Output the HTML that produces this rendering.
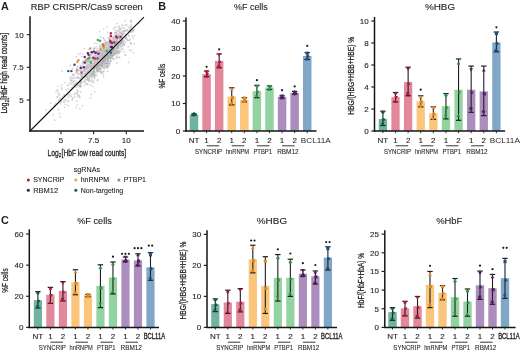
<!DOCTYPE html>
<html><head><meta charset="utf-8"><style>
html,body{margin:0;padding:0;background:#fff;width:520px;height:352px;overflow:hidden}
svg{display:block;filter:blur(0.3px)}
</style></head><body><svg width="520" height="352" viewBox="0 0 520 352" font-family='"Liberation Sans", sans-serif'><rect width="520" height="352" fill="#fff"/>
<text x="1.0" y="9.6" font-size="10.8" font-weight="bold" fill="#231f20">A</text>
<text x="30.8" y="10.4" font-size="9.3" textLength="112" lengthAdjust="spacingAndGlyphs" fill="#231f20" stroke="#231f20" stroke-width="0.12">RBP CRISPR/Cas9 screen</text>
<g fill="#ababb0" fill-opacity="0.52"><circle cx="98.1" cy="62.1" r="0.85"/><circle cx="118.4" cy="46.7" r="0.85"/><circle cx="97.2" cy="65.5" r="0.85"/><circle cx="113.7" cy="42.6" r="0.85"/><circle cx="98.2" cy="71.2" r="0.85"/><circle cx="115.8" cy="43.9" r="0.85"/><circle cx="123.4" cy="33.5" r="0.85"/><circle cx="108.4" cy="55.4" r="0.85"/><circle cx="132.9" cy="31.0" r="0.85"/><circle cx="102.2" cy="66.4" r="0.85"/><circle cx="110.2" cy="51.3" r="0.85"/><circle cx="106.2" cy="56.5" r="0.85"/><circle cx="111.8" cy="46.7" r="0.85"/><circle cx="119.4" cy="41.8" r="0.85"/><circle cx="93.0" cy="65.5" r="0.85"/><circle cx="96.3" cy="66.9" r="0.85"/><circle cx="95.9" cy="66.4" r="0.85"/><circle cx="102.2" cy="58.9" r="0.85"/><circle cx="139.5" cy="23.0" r="0.85"/><circle cx="117.0" cy="52.5" r="0.85"/><circle cx="106.7" cy="52.0" r="0.85"/><circle cx="108.5" cy="51.8" r="0.85"/><circle cx="110.3" cy="57.5" r="0.85"/><circle cx="114.5" cy="52.3" r="0.85"/><circle cx="126.5" cy="38.6" r="0.85"/><circle cx="115.6" cy="46.7" r="0.85"/><circle cx="118.0" cy="47.6" r="0.85"/><circle cx="118.5" cy="44.5" r="0.85"/><circle cx="120.9" cy="38.0" r="0.85"/><circle cx="110.6" cy="56.0" r="0.85"/><circle cx="116.4" cy="43.4" r="0.85"/><circle cx="124.4" cy="40.0" r="0.85"/><circle cx="114.4" cy="45.1" r="0.85"/><circle cx="111.9" cy="49.2" r="0.85"/><circle cx="111.0" cy="54.6" r="0.85"/><circle cx="100.1" cy="64.4" r="0.85"/><circle cx="114.7" cy="39.3" r="0.85"/><circle cx="118.3" cy="38.3" r="0.85"/><circle cx="116.4" cy="42.0" r="0.85"/><circle cx="111.0" cy="47.1" r="0.85"/><circle cx="125.6" cy="38.5" r="0.85"/><circle cx="103.0" cy="48.6" r="0.85"/><circle cx="111.6" cy="45.4" r="0.85"/><circle cx="117.3" cy="51.2" r="0.85"/><circle cx="131.6" cy="21.0" r="0.85"/><circle cx="111.0" cy="47.2" r="0.85"/><circle cx="110.5" cy="56.7" r="0.85"/><circle cx="108.3" cy="51.9" r="0.85"/><circle cx="119.5" cy="38.9" r="0.85"/><circle cx="109.9" cy="45.0" r="0.85"/><circle cx="102.4" cy="55.6" r="0.85"/><circle cx="119.5" cy="44.4" r="0.85"/><circle cx="93.0" cy="74.3" r="0.85"/><circle cx="111.5" cy="47.9" r="0.85"/><circle cx="123.5" cy="44.3" r="0.85"/><circle cx="109.4" cy="49.4" r="0.85"/><circle cx="107.9" cy="67.4" r="0.85"/><circle cx="116.7" cy="32.9" r="0.85"/><circle cx="118.5" cy="48.8" r="0.85"/><circle cx="105.6" cy="55.5" r="0.85"/><circle cx="132.1" cy="26.8" r="0.85"/><circle cx="110.4" cy="43.4" r="0.85"/><circle cx="108.6" cy="43.5" r="0.85"/><circle cx="103.1" cy="61.8" r="0.85"/><circle cx="115.9" cy="38.6" r="0.85"/><circle cx="115.3" cy="45.3" r="0.85"/><circle cx="92.7" cy="73.6" r="0.85"/><circle cx="103.7" cy="61.5" r="0.85"/><circle cx="114.7" cy="49.4" r="0.85"/><circle cx="116.5" cy="45.3" r="0.85"/><circle cx="106.3" cy="55.4" r="0.85"/><circle cx="113.3" cy="44.3" r="0.85"/><circle cx="105.0" cy="58.6" r="0.85"/><circle cx="96.9" cy="56.6" r="0.85"/><circle cx="122.6" cy="40.7" r="0.85"/><circle cx="105.0" cy="64.1" r="0.85"/><circle cx="110.9" cy="50.3" r="0.85"/><circle cx="129.3" cy="31.7" r="0.85"/><circle cx="102.2" cy="73.5" r="0.85"/><circle cx="122.2" cy="39.0" r="0.85"/><circle cx="94.6" cy="66.7" r="0.85"/><circle cx="94.6" cy="48.6" r="0.85"/><circle cx="119.6" cy="39.6" r="0.85"/><circle cx="107.7" cy="66.3" r="0.85"/><circle cx="108.2" cy="62.7" r="0.85"/><circle cx="114.8" cy="59.3" r="0.85"/><circle cx="101.0" cy="54.6" r="0.85"/><circle cx="124.4" cy="44.4" r="0.85"/><circle cx="95.3" cy="62.2" r="0.85"/><circle cx="117.1" cy="50.6" r="0.85"/><circle cx="103.0" cy="63.1" r="0.85"/><circle cx="98.5" cy="67.6" r="0.85"/><circle cx="120.8" cy="37.7" r="0.85"/><circle cx="128.2" cy="34.6" r="0.85"/><circle cx="108.1" cy="59.6" r="0.85"/><circle cx="108.2" cy="61.3" r="0.85"/><circle cx="93.1" cy="65.4" r="0.85"/><circle cx="122.5" cy="35.2" r="0.85"/><circle cx="121.5" cy="39.4" r="0.85"/><circle cx="102.8" cy="59.1" r="0.85"/><circle cx="105.9" cy="62.5" r="0.85"/><circle cx="93.9" cy="76.6" r="0.85"/><circle cx="109.3" cy="52.2" r="0.85"/><circle cx="105.0" cy="49.5" r="0.85"/><circle cx="111.0" cy="48.1" r="0.85"/><circle cx="120.5" cy="46.3" r="0.85"/><circle cx="91.3" cy="66.9" r="0.85"/><circle cx="103.0" cy="52.1" r="0.85"/><circle cx="112.4" cy="44.4" r="0.85"/><circle cx="116.3" cy="57.4" r="0.85"/><circle cx="115.9" cy="50.1" r="0.85"/><circle cx="102.4" cy="62.3" r="0.85"/><circle cx="116.4" cy="41.1" r="0.85"/><circle cx="118.6" cy="52.8" r="0.85"/><circle cx="103.9" cy="71.4" r="0.85"/><circle cx="108.4" cy="50.6" r="0.85"/><circle cx="102.3" cy="58.6" r="0.85"/><circle cx="111.5" cy="45.3" r="0.85"/><circle cx="101.8" cy="65.0" r="0.85"/><circle cx="102.4" cy="50.3" r="0.85"/><circle cx="119.3" cy="43.7" r="0.85"/><circle cx="111.4" cy="50.3" r="0.85"/><circle cx="111.2" cy="52.3" r="0.85"/><circle cx="106.3" cy="62.9" r="0.85"/><circle cx="103.5" cy="49.8" r="0.85"/><circle cx="114.2" cy="47.7" r="0.85"/><circle cx="107.4" cy="54.6" r="0.85"/><circle cx="112.6" cy="53.3" r="0.85"/><circle cx="111.1" cy="49.9" r="0.85"/><circle cx="102.5" cy="64.2" r="0.85"/><circle cx="100.2" cy="67.9" r="0.85"/><circle cx="117.5" cy="57.8" r="0.85"/><circle cx="106.9" cy="58.8" r="0.85"/><circle cx="103.7" cy="58.1" r="0.85"/><circle cx="119.7" cy="42.2" r="0.85"/><circle cx="108.1" cy="57.6" r="0.85"/><circle cx="108.2" cy="49.1" r="0.85"/><circle cx="105.7" cy="62.9" r="0.85"/><circle cx="97.8" cy="70.6" r="0.85"/><circle cx="96.6" cy="59.7" r="0.85"/><circle cx="112.6" cy="51.0" r="0.85"/><circle cx="122.7" cy="43.2" r="0.85"/><circle cx="116.2" cy="41.7" r="0.85"/><circle cx="95.2" cy="75.7" r="0.85"/><circle cx="100.8" cy="56.5" r="0.85"/><circle cx="121.2" cy="47.9" r="0.85"/><circle cx="118.9" cy="45.5" r="0.85"/><circle cx="105.7" cy="59.6" r="0.85"/><circle cx="106.4" cy="65.9" r="0.85"/><circle cx="100.2" cy="68.9" r="0.85"/><circle cx="113.8" cy="37.0" r="0.85"/><circle cx="134.3" cy="29.8" r="0.85"/><circle cx="93.6" cy="71.0" r="0.85"/><circle cx="100.7" cy="50.7" r="0.85"/><circle cx="114.6" cy="51.7" r="0.85"/><circle cx="117.9" cy="41.5" r="0.85"/><circle cx="94.5" cy="70.8" r="0.85"/><circle cx="107.1" cy="55.1" r="0.85"/><circle cx="110.5" cy="53.6" r="0.85"/><circle cx="111.1" cy="54.5" r="0.85"/><circle cx="101.1" cy="52.9" r="0.85"/><circle cx="112.6" cy="47.3" r="0.85"/><circle cx="94.7" cy="68.5" r="0.85"/><circle cx="116.8" cy="52.6" r="0.85"/><circle cx="119.4" cy="45.1" r="0.85"/><circle cx="113.0" cy="50.0" r="0.85"/><circle cx="111.3" cy="44.4" r="0.85"/><circle cx="105.6" cy="48.1" r="0.85"/><circle cx="102.2" cy="65.2" r="0.85"/><circle cx="115.8" cy="52.3" r="0.85"/><circle cx="105.9" cy="51.4" r="0.85"/><circle cx="120.4" cy="51.6" r="0.85"/><circle cx="114.0" cy="38.0" r="0.85"/><circle cx="120.3" cy="43.4" r="0.85"/><circle cx="103.8" cy="60.1" r="0.85"/><circle cx="98.8" cy="65.0" r="0.85"/><circle cx="107.6" cy="55.5" r="0.85"/><circle cx="120.2" cy="43.4" r="0.85"/><circle cx="96.0" cy="60.5" r="0.85"/><circle cx="99.5" cy="65.2" r="0.85"/><circle cx="108.1" cy="56.1" r="0.85"/><circle cx="100.2" cy="63.5" r="0.85"/><circle cx="129.3" cy="36.3" r="0.85"/><circle cx="108.1" cy="48.1" r="0.85"/><circle cx="116.1" cy="42.0" r="0.85"/><circle cx="117.2" cy="55.9" r="0.85"/><circle cx="101.4" cy="60.2" r="0.85"/><circle cx="113.9" cy="41.3" r="0.85"/><circle cx="113.6" cy="50.0" r="0.85"/><circle cx="109.7" cy="53.8" r="0.85"/><circle cx="111.6" cy="47.0" r="0.85"/><circle cx="106.2" cy="60.5" r="0.85"/><circle cx="101.5" cy="54.8" r="0.85"/><circle cx="121.1" cy="35.8" r="0.85"/><circle cx="117.2" cy="40.6" r="0.85"/><circle cx="109.3" cy="49.3" r="0.85"/><circle cx="99.7" cy="63.7" r="0.85"/><circle cx="102.6" cy="55.7" r="0.85"/><circle cx="104.0" cy="58.9" r="0.85"/><circle cx="113.0" cy="41.9" r="0.85"/><circle cx="102.1" cy="65.4" r="0.85"/><circle cx="116.8" cy="51.6" r="0.85"/><circle cx="113.5" cy="52.0" r="0.85"/><circle cx="108.4" cy="63.9" r="0.85"/><circle cx="115.9" cy="49.2" r="0.85"/><circle cx="101.1" cy="49.8" r="0.85"/><circle cx="115.8" cy="27.2" r="0.85"/><circle cx="113.1" cy="51.2" r="0.85"/><circle cx="110.3" cy="43.2" r="0.85"/><circle cx="109.1" cy="50.7" r="0.85"/><circle cx="114.1" cy="53.2" r="0.85"/><circle cx="110.5" cy="54.6" r="0.85"/><circle cx="97.9" cy="59.6" r="0.85"/><circle cx="115.4" cy="46.5" r="0.85"/><circle cx="101.0" cy="72.3" r="0.85"/><circle cx="113.8" cy="49.1" r="0.85"/><circle cx="93.9" cy="68.7" r="0.85"/><circle cx="95.4" cy="67.0" r="0.85"/><circle cx="110.6" cy="49.7" r="0.85"/><circle cx="111.3" cy="50.0" r="0.85"/><circle cx="98.9" cy="65.5" r="0.85"/><circle cx="104.7" cy="58.9" r="0.85"/><circle cx="111.8" cy="47.1" r="0.85"/><circle cx="124.3" cy="52.1" r="0.85"/><circle cx="113.0" cy="50.4" r="0.85"/><circle cx="130.2" cy="27.0" r="0.85"/><circle cx="94.2" cy="65.9" r="0.85"/><circle cx="104.6" cy="52.3" r="0.85"/><circle cx="99.7" cy="63.2" r="0.85"/><circle cx="108.1" cy="54.7" r="0.85"/><circle cx="104.0" cy="68.4" r="0.85"/><circle cx="113.5" cy="43.3" r="0.85"/><circle cx="108.7" cy="59.2" r="0.85"/><circle cx="111.2" cy="48.0" r="0.85"/><circle cx="107.7" cy="54.7" r="0.85"/><circle cx="122.2" cy="46.2" r="0.85"/><circle cx="104.2" cy="68.5" r="0.85"/><circle cx="102.9" cy="63.4" r="0.85"/><circle cx="100.6" cy="65.6" r="0.85"/><circle cx="125.8" cy="37.6" r="0.85"/><circle cx="108.3" cy="42.0" r="0.85"/><circle cx="108.8" cy="63.0" r="0.85"/><circle cx="113.0" cy="54.4" r="0.85"/><circle cx="124.3" cy="44.8" r="0.85"/><circle cx="104.0" cy="67.1" r="0.85"/><circle cx="110.2" cy="57.7" r="0.85"/><circle cx="108.7" cy="55.6" r="0.85"/><circle cx="103.7" cy="53.4" r="0.85"/><circle cx="117.9" cy="44.1" r="0.85"/><circle cx="101.1" cy="67.1" r="0.85"/><circle cx="111.8" cy="37.4" r="0.85"/><circle cx="105.2" cy="61.5" r="0.85"/><circle cx="103.0" cy="65.4" r="0.85"/><circle cx="100.4" cy="63.0" r="0.85"/><circle cx="122.5" cy="39.9" r="0.85"/><circle cx="104.7" cy="66.5" r="0.85"/><circle cx="111.3" cy="51.2" r="0.85"/><circle cx="98.1" cy="70.2" r="0.85"/><circle cx="108.9" cy="47.8" r="0.85"/><circle cx="115.1" cy="46.1" r="0.85"/><circle cx="106.4" cy="54.2" r="0.85"/><circle cx="109.2" cy="41.2" r="0.85"/><circle cx="99.0" cy="65.4" r="0.85"/><circle cx="120.9" cy="42.8" r="0.85"/><circle cx="122.4" cy="40.2" r="0.85"/><circle cx="110.7" cy="53.7" r="0.85"/><circle cx="96.7" cy="70.9" r="0.85"/><circle cx="129.6" cy="29.2" r="0.85"/><circle cx="114.9" cy="42.2" r="0.85"/><circle cx="114.5" cy="42.2" r="0.85"/><circle cx="106.9" cy="56.6" r="0.85"/><circle cx="118.3" cy="45.9" r="0.85"/><circle cx="97.2" cy="66.4" r="0.85"/><circle cx="104.4" cy="54.6" r="0.85"/><circle cx="102.7" cy="65.4" r="0.85"/><circle cx="106.3" cy="47.5" r="0.85"/><circle cx="108.9" cy="52.5" r="0.85"/><circle cx="109.4" cy="51.3" r="0.85"/><circle cx="117.8" cy="36.8" r="0.85"/><circle cx="94.3" cy="60.5" r="0.85"/><circle cx="109.3" cy="54.8" r="0.85"/><circle cx="131.3" cy="32.0" r="0.85"/><circle cx="127.1" cy="29.9" r="0.85"/><circle cx="99.9" cy="59.7" r="0.85"/><circle cx="116.1" cy="46.9" r="0.85"/><circle cx="88.0" cy="76.2" r="0.85"/><circle cx="107.6" cy="60.8" r="0.85"/><circle cx="126.0" cy="37.6" r="0.85"/><circle cx="105.7" cy="58.2" r="0.85"/><circle cx="102.2" cy="64.4" r="0.85"/><circle cx="110.2" cy="50.4" r="0.85"/><circle cx="104.7" cy="58.1" r="0.85"/><circle cx="96.6" cy="62.8" r="0.85"/><circle cx="102.5" cy="58.6" r="0.85"/><circle cx="101.0" cy="64.1" r="0.85"/><circle cx="111.3" cy="57.7" r="0.85"/><circle cx="131.9" cy="30.6" r="0.85"/><circle cx="108.7" cy="57.7" r="0.85"/><circle cx="123.9" cy="30.8" r="0.85"/><circle cx="112.1" cy="57.7" r="0.85"/><circle cx="104.7" cy="54.2" r="0.85"/><circle cx="104.7" cy="64.2" r="0.85"/><circle cx="98.5" cy="68.1" r="0.85"/><circle cx="109.5" cy="56.4" r="0.85"/><circle cx="109.5" cy="37.5" r="0.85"/><circle cx="125.6" cy="42.4" r="0.85"/><circle cx="112.5" cy="49.4" r="0.85"/><circle cx="108.1" cy="48.5" r="0.85"/><circle cx="106.3" cy="57.8" r="0.85"/><circle cx="105.9" cy="57.0" r="0.85"/><circle cx="121.1" cy="36.9" r="0.85"/><circle cx="97.1" cy="67.7" r="0.85"/><circle cx="102.0" cy="55.8" r="0.85"/><circle cx="111.4" cy="46.0" r="0.85"/><circle cx="108.8" cy="64.0" r="0.85"/><circle cx="113.5" cy="47.6" r="0.85"/><circle cx="114.0" cy="55.5" r="0.85"/><circle cx="110.1" cy="56.0" r="0.85"/><circle cx="103.0" cy="57.3" r="0.85"/><circle cx="112.6" cy="54.6" r="0.85"/><circle cx="93.7" cy="82.2" r="0.85"/><circle cx="104.1" cy="52.1" r="0.85"/><circle cx="108.8" cy="65.8" r="0.85"/><circle cx="101.4" cy="58.5" r="0.85"/><circle cx="124.6" cy="31.3" r="0.85"/><circle cx="112.7" cy="48.5" r="0.85"/><circle cx="99.6" cy="65.1" r="0.85"/><circle cx="106.3" cy="60.3" r="0.85"/><circle cx="109.9" cy="54.5" r="0.85"/><circle cx="112.4" cy="42.0" r="0.85"/><circle cx="116.1" cy="43.9" r="0.85"/><circle cx="107.1" cy="63.5" r="0.85"/><circle cx="108.3" cy="51.0" r="0.85"/><circle cx="100.1" cy="55.3" r="0.85"/><circle cx="106.3" cy="54.0" r="0.85"/><circle cx="106.3" cy="62.9" r="0.85"/><circle cx="128.3" cy="40.4" r="0.85"/><circle cx="117.7" cy="47.6" r="0.85"/><circle cx="111.9" cy="54.8" r="0.85"/><circle cx="105.5" cy="51.7" r="0.85"/><circle cx="127.1" cy="39.8" r="0.85"/><circle cx="109.4" cy="47.7" r="0.85"/><circle cx="103.6" cy="54.8" r="0.85"/><circle cx="102.2" cy="56.8" r="0.85"/><circle cx="113.3" cy="42.3" r="0.85"/><circle cx="112.7" cy="56.2" r="0.85"/><circle cx="115.4" cy="52.9" r="0.85"/><circle cx="116.2" cy="37.8" r="0.85"/><circle cx="114.8" cy="50.6" r="0.85"/><circle cx="120.2" cy="41.1" r="0.85"/><circle cx="97.9" cy="66.3" r="0.85"/><circle cx="122.3" cy="41.7" r="0.85"/><circle cx="110.4" cy="53.7" r="0.85"/><circle cx="93.9" cy="71.2" r="0.85"/><circle cx="112.6" cy="48.6" r="0.85"/><circle cx="107.7" cy="66.3" r="0.85"/><circle cx="120.5" cy="37.8" r="0.85"/><circle cx="118.7" cy="36.5" r="0.85"/><circle cx="105.3" cy="60.4" r="0.85"/><circle cx="112.2" cy="40.9" r="0.85"/><circle cx="93.9" cy="69.7" r="0.85"/><circle cx="102.8" cy="56.4" r="0.85"/><circle cx="122.7" cy="41.2" r="0.85"/><circle cx="98.0" cy="64.1" r="0.85"/><circle cx="106.7" cy="64.1" r="0.85"/><circle cx="117.4" cy="47.7" r="0.85"/><circle cx="115.6" cy="53.9" r="0.85"/><circle cx="119.4" cy="50.9" r="0.85"/><circle cx="119.0" cy="53.3" r="0.85"/><circle cx="122.0" cy="42.4" r="0.85"/><circle cx="95.1" cy="68.5" r="0.85"/><circle cx="112.4" cy="55.3" r="0.85"/><circle cx="104.8" cy="56.0" r="0.85"/><circle cx="107.8" cy="71.3" r="0.85"/><circle cx="105.4" cy="54.6" r="0.85"/><circle cx="112.1" cy="44.7" r="0.85"/><circle cx="103.0" cy="45.3" r="0.85"/><circle cx="116.7" cy="43.9" r="0.85"/><circle cx="119.3" cy="37.8" r="0.85"/><circle cx="110.3" cy="55.4" r="0.85"/><circle cx="118.7" cy="41.3" r="0.85"/><circle cx="92.0" cy="76.3" r="0.85"/><circle cx="113.6" cy="48.1" r="0.85"/><circle cx="111.9" cy="46.9" r="0.85"/><circle cx="110.7" cy="43.0" r="0.85"/><circle cx="103.9" cy="60.6" r="0.85"/><circle cx="112.3" cy="45.9" r="0.85"/><circle cx="116.5" cy="37.6" r="0.85"/><circle cx="105.0" cy="50.9" r="0.85"/><circle cx="113.6" cy="54.4" r="0.85"/><circle cx="108.1" cy="42.8" r="0.85"/><circle cx="116.5" cy="48.4" r="0.85"/><circle cx="87.4" cy="79.0" r="0.85"/><circle cx="102.9" cy="59.0" r="0.85"/><circle cx="130.5" cy="27.7" r="0.85"/><circle cx="112.2" cy="55.2" r="0.85"/><circle cx="98.5" cy="65.0" r="0.85"/><circle cx="105.1" cy="40.7" r="0.85"/><circle cx="105.6" cy="60.1" r="0.85"/><circle cx="119.7" cy="42.2" r="0.85"/><circle cx="98.0" cy="57.2" r="0.85"/><circle cx="106.5" cy="63.1" r="0.85"/><circle cx="112.3" cy="47.4" r="0.85"/><circle cx="106.2" cy="52.2" r="0.85"/><circle cx="116.8" cy="50.3" r="0.85"/><circle cx="90.5" cy="84.9" r="0.85"/><circle cx="108.2" cy="47.4" r="0.85"/><circle cx="118.5" cy="36.2" r="0.85"/><circle cx="126.3" cy="35.9" r="0.85"/><circle cx="119.0" cy="51.7" r="0.85"/><circle cx="115.6" cy="44.5" r="0.85"/><circle cx="108.5" cy="56.3" r="0.85"/><circle cx="99.1" cy="62.4" r="0.85"/><circle cx="121.0" cy="43.3" r="0.85"/><circle cx="114.2" cy="51.8" r="0.85"/><circle cx="111.7" cy="56.2" r="0.85"/><circle cx="112.8" cy="50.7" r="0.85"/><circle cx="112.2" cy="53.4" r="0.85"/><circle cx="98.6" cy="65.5" r="0.85"/><circle cx="118.8" cy="34.8" r="0.85"/><circle cx="106.4" cy="51.6" r="0.85"/><circle cx="116.3" cy="43.9" r="0.85"/><circle cx="95.1" cy="65.4" r="0.85"/><circle cx="100.5" cy="55.4" r="0.85"/><circle cx="116.5" cy="42.4" r="0.85"/><circle cx="86.1" cy="72.8" r="0.85"/><circle cx="115.7" cy="53.6" r="0.85"/><circle cx="118.2" cy="43.7" r="0.85"/><circle cx="107.7" cy="58.6" r="0.85"/><circle cx="100.0" cy="64.7" r="0.85"/><circle cx="137.6" cy="23.6" r="0.85"/><circle cx="111.2" cy="54.6" r="0.85"/><circle cx="103.7" cy="61.7" r="0.85"/><circle cx="101.2" cy="56.3" r="0.85"/><circle cx="106.9" cy="50.7" r="0.85"/><circle cx="98.8" cy="58.4" r="0.85"/><circle cx="109.1" cy="49.6" r="0.85"/><circle cx="108.4" cy="58.8" r="0.85"/><circle cx="120.4" cy="44.3" r="0.85"/><circle cx="108.0" cy="59.2" r="0.85"/><circle cx="111.2" cy="53.2" r="0.85"/><circle cx="111.9" cy="48.5" r="0.85"/><circle cx="103.0" cy="67.0" r="0.85"/><circle cx="113.3" cy="44.0" r="0.85"/><circle cx="115.7" cy="52.9" r="0.85"/><circle cx="114.9" cy="45.3" r="0.85"/><circle cx="111.9" cy="48.0" r="0.85"/><circle cx="106.4" cy="54.8" r="0.85"/><circle cx="117.8" cy="47.3" r="0.85"/><circle cx="96.2" cy="66.7" r="0.85"/><circle cx="111.1" cy="61.3" r="0.85"/><circle cx="103.1" cy="55.9" r="0.85"/><circle cx="108.0" cy="53.8" r="0.85"/><circle cx="97.8" cy="59.5" r="0.85"/><circle cx="125.4" cy="38.0" r="0.85"/><circle cx="102.6" cy="66.0" r="0.85"/><circle cx="117.5" cy="44.3" r="0.85"/><circle cx="102.1" cy="53.6" r="0.85"/><circle cx="116.3" cy="42.7" r="0.85"/><circle cx="93.2" cy="69.6" r="0.85"/><circle cx="115.1" cy="54.0" r="0.85"/><circle cx="117.8" cy="36.6" r="0.85"/><circle cx="118.8" cy="47.5" r="0.85"/><circle cx="102.9" cy="54.3" r="0.85"/><circle cx="118.4" cy="37.1" r="0.85"/><circle cx="120.3" cy="42.5" r="0.85"/><circle cx="105.6" cy="66.9" r="0.85"/><circle cx="116.5" cy="33.3" r="0.85"/><circle cx="105.1" cy="59.8" r="0.85"/><circle cx="115.3" cy="45.0" r="0.85"/><circle cx="96.8" cy="69.4" r="0.85"/><circle cx="99.3" cy="51.9" r="0.85"/><circle cx="102.8" cy="54.8" r="0.85"/><circle cx="126.9" cy="25.0" r="0.85"/><circle cx="122.4" cy="31.0" r="0.85"/><circle cx="98.0" cy="66.2" r="0.85"/><circle cx="102.7" cy="61.2" r="0.85"/><circle cx="133.3" cy="38.2" r="0.85"/><circle cx="114.4" cy="54.7" r="0.85"/><circle cx="121.6" cy="33.6" r="0.85"/><circle cx="104.7" cy="46.3" r="0.85"/><circle cx="110.0" cy="45.1" r="0.85"/><circle cx="112.2" cy="53.2" r="0.85"/><circle cx="105.9" cy="57.1" r="0.85"/><circle cx="115.0" cy="46.6" r="0.85"/><circle cx="130.9" cy="32.4" r="0.85"/><circle cx="105.1" cy="61.2" r="0.85"/><circle cx="102.2" cy="68.0" r="0.85"/><circle cx="100.3" cy="57.0" r="0.85"/><circle cx="109.9" cy="53.4" r="0.85"/><circle cx="112.5" cy="43.9" r="0.85"/><circle cx="115.0" cy="43.1" r="0.85"/><circle cx="104.2" cy="59.5" r="0.85"/><circle cx="102.2" cy="60.6" r="0.85"/><circle cx="101.9" cy="62.5" r="0.85"/><circle cx="107.7" cy="55.8" r="0.85"/><circle cx="106.9" cy="58.1" r="0.85"/><circle cx="121.3" cy="42.9" r="0.85"/><circle cx="100.1" cy="61.2" r="0.85"/><circle cx="99.4" cy="68.8" r="0.85"/><circle cx="110.1" cy="61.4" r="0.85"/><circle cx="79.9" cy="80.8" r="0.85"/><circle cx="118.8" cy="52.7" r="0.85"/><circle cx="101.1" cy="58.0" r="0.85"/><circle cx="91.2" cy="76.0" r="0.85"/><circle cx="98.3" cy="65.1" r="0.85"/><circle cx="91.3" cy="66.1" r="0.85"/><circle cx="108.0" cy="52.6" r="0.85"/><circle cx="106.3" cy="67.6" r="0.85"/><circle cx="107.9" cy="61.7" r="0.85"/><circle cx="109.4" cy="57.6" r="0.85"/><circle cx="106.4" cy="57.0" r="0.85"/><circle cx="116.4" cy="41.7" r="0.85"/><circle cx="100.1" cy="62.3" r="0.85"/><circle cx="122.7" cy="36.9" r="0.85"/><circle cx="102.7" cy="60.3" r="0.85"/><circle cx="106.2" cy="51.0" r="0.85"/><circle cx="109.6" cy="50.6" r="0.85"/><circle cx="129.6" cy="40.3" r="0.85"/><circle cx="100.1" cy="71.8" r="0.85"/><circle cx="94.8" cy="62.8" r="0.85"/><circle cx="112.0" cy="41.3" r="0.85"/><circle cx="91.3" cy="75.9" r="0.85"/><circle cx="122.5" cy="34.1" r="0.85"/><circle cx="117.4" cy="40.1" r="0.85"/><circle cx="109.6" cy="52.7" r="0.85"/><circle cx="109.6" cy="48.1" r="0.85"/><circle cx="107.8" cy="52.7" r="0.85"/><circle cx="122.6" cy="45.9" r="0.85"/><circle cx="102.5" cy="56.7" r="0.85"/><circle cx="106.9" cy="56.2" r="0.85"/><circle cx="128.5" cy="31.5" r="0.85"/><circle cx="105.5" cy="50.8" r="0.85"/><circle cx="132.4" cy="36.0" r="0.85"/><circle cx="103.2" cy="58.5" r="0.85"/><circle cx="103.5" cy="46.9" r="0.85"/><circle cx="114.1" cy="50.3" r="0.85"/><circle cx="113.8" cy="52.9" r="0.85"/><circle cx="103.8" cy="57.9" r="0.85"/><circle cx="131.2" cy="43.5" r="0.85"/><circle cx="113.2" cy="41.7" r="0.85"/><circle cx="116.1" cy="35.6" r="0.85"/><circle cx="113.5" cy="48.0" r="0.85"/><circle cx="108.1" cy="58.9" r="0.85"/><circle cx="124.3" cy="44.5" r="0.85"/><circle cx="108.2" cy="57.0" r="0.85"/><circle cx="102.2" cy="72.4" r="0.85"/><circle cx="105.8" cy="55.7" r="0.85"/><circle cx="110.6" cy="47.0" r="0.85"/><circle cx="107.8" cy="58.0" r="0.85"/><circle cx="112.2" cy="46.5" r="0.85"/><circle cx="101.1" cy="69.6" r="0.85"/><circle cx="100.0" cy="56.5" r="0.85"/><circle cx="118.5" cy="48.7" r="0.85"/><circle cx="110.4" cy="47.3" r="0.85"/><circle cx="121.5" cy="44.4" r="0.85"/><circle cx="107.1" cy="47.4" r="0.85"/><circle cx="131.4" cy="22.5" r="0.85"/><circle cx="98.9" cy="60.9" r="0.85"/><circle cx="106.6" cy="56.0" r="0.85"/><circle cx="103.3" cy="61.7" r="0.85"/><circle cx="109.2" cy="43.2" r="0.85"/><circle cx="115.7" cy="44.2" r="0.85"/><circle cx="109.6" cy="56.8" r="0.85"/><circle cx="107.2" cy="48.3" r="0.85"/><circle cx="116.9" cy="34.6" r="0.85"/><circle cx="111.7" cy="50.7" r="0.85"/><circle cx="94.5" cy="65.6" r="0.85"/><circle cx="93.6" cy="60.4" r="0.85"/><circle cx="103.6" cy="58.7" r="0.85"/><circle cx="97.0" cy="68.1" r="0.85"/><circle cx="100.8" cy="55.3" r="0.85"/><circle cx="111.6" cy="57.2" r="0.85"/><circle cx="91.7" cy="71.0" r="0.85"/><circle cx="104.9" cy="63.5" r="0.85"/><circle cx="114.7" cy="48.6" r="0.85"/><circle cx="110.4" cy="55.2" r="0.85"/><circle cx="104.1" cy="60.7" r="0.85"/><circle cx="94.7" cy="64.2" r="0.85"/><circle cx="113.0" cy="58.7" r="0.85"/><circle cx="110.3" cy="45.7" r="0.85"/><circle cx="111.5" cy="43.7" r="0.85"/><circle cx="106.9" cy="55.4" r="0.85"/><circle cx="97.4" cy="69.8" r="0.85"/><circle cx="92.7" cy="74.6" r="0.85"/><circle cx="111.6" cy="47.9" r="0.85"/><circle cx="120.0" cy="41.6" r="0.85"/><circle cx="100.3" cy="59.7" r="0.85"/><circle cx="108.0" cy="44.5" r="0.85"/><circle cx="127.3" cy="29.8" r="0.85"/><circle cx="98.9" cy="66.3" r="0.85"/><circle cx="111.1" cy="55.1" r="0.85"/><circle cx="114.1" cy="44.4" r="0.85"/><circle cx="117.0" cy="44.0" r="0.85"/><circle cx="101.2" cy="65.7" r="0.85"/><circle cx="108.2" cy="46.8" r="0.85"/><circle cx="123.7" cy="33.2" r="0.85"/><circle cx="112.7" cy="45.9" r="0.85"/><circle cx="116.9" cy="38.4" r="0.85"/><circle cx="117.2" cy="53.6" r="0.85"/><circle cx="118.1" cy="42.1" r="0.85"/><circle cx="105.1" cy="54.3" r="0.85"/><circle cx="112.0" cy="50.6" r="0.85"/><circle cx="93.9" cy="67.8" r="0.85"/><circle cx="114.4" cy="48.1" r="0.85"/><circle cx="94.8" cy="65.0" r="0.85"/><circle cx="115.9" cy="45.4" r="0.85"/><circle cx="113.2" cy="51.0" r="0.85"/><circle cx="103.3" cy="56.1" r="0.85"/><circle cx="106.1" cy="55.2" r="0.85"/><circle cx="110.6" cy="60.6" r="0.85"/><circle cx="110.2" cy="47.9" r="0.85"/><circle cx="102.9" cy="60.7" r="0.85"/><circle cx="88.7" cy="70.5" r="0.85"/><circle cx="103.9" cy="54.7" r="0.85"/><circle cx="121.8" cy="41.4" r="0.85"/><circle cx="118.3" cy="42.6" r="0.85"/><circle cx="107.5" cy="56.4" r="0.85"/><circle cx="101.5" cy="53.7" r="0.85"/><circle cx="107.6" cy="60.4" r="0.85"/><circle cx="107.1" cy="58.5" r="0.85"/><circle cx="73.3" cy="75.1" r="0.85"/><circle cx="76.6" cy="71.9" r="0.85"/><circle cx="97.8" cy="53.2" r="0.85"/><circle cx="102.3" cy="46.5" r="0.85"/><circle cx="100.0" cy="53.9" r="0.85"/><circle cx="98.5" cy="50.8" r="0.85"/><circle cx="89.3" cy="60.7" r="0.85"/><circle cx="116.6" cy="43.0" r="0.85"/><circle cx="101.3" cy="62.3" r="0.85"/><circle cx="90.8" cy="65.9" r="0.85"/><circle cx="90.0" cy="76.9" r="0.85"/><circle cx="94.5" cy="62.8" r="0.85"/><circle cx="99.6" cy="53.1" r="0.85"/><circle cx="69.5" cy="77.0" r="0.85"/><circle cx="92.5" cy="73.4" r="0.85"/><circle cx="89.6" cy="65.5" r="0.85"/><circle cx="107.5" cy="54.8" r="0.85"/><circle cx="97.2" cy="76.0" r="0.85"/><circle cx="97.4" cy="62.6" r="0.85"/><circle cx="88.8" cy="62.4" r="0.85"/><circle cx="120.7" cy="29.1" r="0.85"/><circle cx="83.7" cy="61.7" r="0.85"/><circle cx="90.2" cy="69.2" r="0.85"/><circle cx="86.6" cy="68.4" r="0.85"/><circle cx="102.9" cy="54.8" r="0.85"/><circle cx="91.9" cy="68.4" r="0.85"/><circle cx="89.2" cy="61.2" r="0.85"/><circle cx="87.5" cy="72.9" r="0.85"/><circle cx="92.0" cy="73.7" r="0.85"/><circle cx="91.7" cy="80.4" r="0.85"/><circle cx="100.8" cy="53.4" r="0.85"/><circle cx="90.7" cy="54.6" r="0.85"/><circle cx="83.2" cy="70.9" r="0.85"/><circle cx="101.8" cy="62.0" r="0.85"/><circle cx="91.5" cy="59.6" r="0.85"/><circle cx="95.8" cy="60.7" r="0.85"/><circle cx="115.0" cy="42.1" r="0.85"/><circle cx="71.0" cy="94.5" r="0.85"/><circle cx="106.9" cy="53.3" r="0.85"/><circle cx="79.5" cy="97.0" r="0.85"/><circle cx="99.6" cy="46.2" r="0.85"/><circle cx="77.0" cy="101.2" r="0.85"/><circle cx="102.1" cy="61.7" r="0.85"/><circle cx="90.8" cy="71.1" r="0.85"/><circle cx="82.1" cy="73.1" r="0.85"/><circle cx="108.1" cy="47.7" r="0.85"/><circle cx="87.0" cy="62.8" r="0.85"/><circle cx="93.4" cy="60.5" r="0.85"/><circle cx="81.6" cy="71.6" r="0.85"/><circle cx="105.6" cy="42.1" r="0.85"/><circle cx="95.4" cy="59.8" r="0.85"/><circle cx="86.7" cy="64.5" r="0.85"/><circle cx="106.1" cy="43.4" r="0.85"/><circle cx="89.5" cy="80.3" r="0.85"/><circle cx="94.0" cy="66.9" r="0.85"/><circle cx="84.3" cy="69.4" r="0.85"/><circle cx="108.5" cy="47.1" r="0.85"/><circle cx="110.8" cy="44.7" r="0.85"/><circle cx="81.1" cy="83.1" r="0.85"/><circle cx="89.9" cy="63.1" r="0.85"/><circle cx="108.1" cy="49.7" r="0.85"/><circle cx="109.4" cy="56.9" r="0.85"/><circle cx="93.4" cy="52.5" r="0.85"/><circle cx="101.3" cy="48.5" r="0.85"/><circle cx="68.2" cy="105.5" r="0.85"/><circle cx="82.7" cy="67.5" r="0.85"/><circle cx="118.1" cy="46.4" r="0.85"/><circle cx="81.0" cy="86.9" r="0.85"/><circle cx="82.3" cy="71.8" r="0.85"/><circle cx="90.5" cy="52.0" r="0.85"/><circle cx="105.2" cy="59.8" r="0.85"/><circle cx="98.3" cy="62.0" r="0.85"/><circle cx="106.2" cy="44.9" r="0.85"/><circle cx="90.1" cy="61.1" r="0.85"/><circle cx="103.1" cy="56.7" r="0.85"/><circle cx="98.6" cy="54.4" r="0.85"/><circle cx="90.5" cy="74.4" r="0.85"/><circle cx="113.0" cy="46.0" r="0.85"/><circle cx="86.6" cy="68.4" r="0.85"/><circle cx="74.1" cy="84.4" r="0.85"/><circle cx="75.8" cy="87.0" r="0.85"/><circle cx="69.8" cy="95.5" r="0.85"/><circle cx="107.7" cy="52.9" r="0.85"/><circle cx="77.8" cy="66.0" r="0.85"/><circle cx="86.1" cy="59.9" r="0.85"/><circle cx="87.6" cy="84.2" r="0.85"/><circle cx="121.1" cy="41.7" r="0.85"/><circle cx="105.8" cy="42.8" r="0.85"/><circle cx="76.5" cy="81.9" r="0.85"/><circle cx="86.9" cy="66.8" r="0.85"/><circle cx="94.8" cy="75.2" r="0.85"/><circle cx="95.8" cy="56.5" r="0.85"/><circle cx="90.9" cy="63.2" r="0.85"/><circle cx="87.5" cy="71.9" r="0.85"/><circle cx="100.0" cy="57.8" r="0.85"/><circle cx="112.9" cy="37.8" r="0.85"/><circle cx="106.9" cy="45.8" r="0.85"/><circle cx="97.2" cy="71.9" r="0.85"/><circle cx="110.0" cy="33.8" r="0.85"/><circle cx="98.2" cy="63.0" r="0.85"/><circle cx="94.5" cy="53.9" r="0.85"/><circle cx="99.1" cy="68.4" r="0.85"/><circle cx="92.6" cy="73.0" r="0.85"/><circle cx="92.2" cy="74.5" r="0.85"/><circle cx="82.8" cy="63.3" r="0.85"/><circle cx="109.8" cy="63.2" r="0.85"/><circle cx="81.3" cy="81.6" r="0.85"/><circle cx="89.6" cy="81.4" r="0.85"/><circle cx="107.6" cy="65.4" r="0.85"/><circle cx="104.8" cy="48.1" r="0.85"/><circle cx="89.9" cy="74.8" r="0.85"/><circle cx="95.9" cy="61.8" r="0.85"/><circle cx="65.6" cy="104.3" r="0.85"/><circle cx="102.5" cy="57.4" r="0.85"/><circle cx="89.2" cy="78.4" r="0.85"/><circle cx="85.2" cy="80.4" r="0.85"/><circle cx="134.3" cy="35.5" r="0.85"/><circle cx="116.6" cy="38.2" r="0.85"/><circle cx="98.1" cy="59.2" r="0.85"/><circle cx="89.7" cy="55.3" r="0.85"/><circle cx="102.2" cy="57.0" r="0.85"/><circle cx="93.4" cy="63.9" r="0.85"/><circle cx="79.0" cy="82.7" r="0.85"/><circle cx="86.3" cy="67.3" r="0.85"/><circle cx="103.5" cy="71.6" r="0.85"/><circle cx="91.9" cy="58.4" r="0.85"/><circle cx="76.9" cy="92.4" r="0.85"/><circle cx="109.1" cy="51.0" r="0.85"/><circle cx="88.7" cy="80.8" r="0.85"/><circle cx="97.5" cy="66.3" r="0.85"/><circle cx="98.1" cy="57.2" r="0.85"/><circle cx="105.0" cy="56.8" r="0.85"/><circle cx="87.7" cy="71.0" r="0.85"/><circle cx="93.7" cy="63.8" r="0.85"/><circle cx="87.6" cy="73.4" r="0.85"/><circle cx="86.8" cy="77.2" r="0.85"/><circle cx="97.3" cy="51.7" r="0.85"/><circle cx="87.5" cy="66.4" r="0.85"/><circle cx="99.9" cy="58.1" r="0.85"/><circle cx="104.6" cy="59.2" r="0.85"/><circle cx="103.0" cy="53.4" r="0.85"/><circle cx="46.0" cy="109.9" r="0.85"/><circle cx="103.5" cy="38.5" r="0.85"/><circle cx="80.2" cy="78.0" r="0.85"/><circle cx="100.0" cy="67.4" r="0.85"/><circle cx="112.0" cy="43.1" r="0.85"/><circle cx="83.9" cy="85.5" r="0.85"/><circle cx="89.2" cy="49.1" r="0.85"/><circle cx="125.4" cy="55.1" r="0.85"/><circle cx="69.4" cy="83.7" r="0.85"/><circle cx="93.6" cy="70.9" r="0.85"/><circle cx="103.6" cy="54.6" r="0.85"/><circle cx="99.1" cy="57.5" r="0.85"/><circle cx="79.7" cy="67.8" r="0.85"/><circle cx="88.6" cy="60.5" r="0.85"/><circle cx="104.8" cy="53.8" r="0.85"/><circle cx="97.0" cy="62.3" r="0.85"/><circle cx="69.1" cy="92.7" r="0.85"/><circle cx="101.1" cy="71.9" r="0.85"/><circle cx="74.1" cy="75.5" r="0.85"/><circle cx="106.5" cy="66.0" r="0.85"/><circle cx="101.6" cy="57.8" r="0.85"/><circle cx="108.8" cy="53.0" r="0.85"/><circle cx="91.9" cy="73.6" r="0.85"/><circle cx="97.6" cy="62.5" r="0.85"/><circle cx="85.8" cy="76.2" r="0.85"/><circle cx="84.4" cy="69.1" r="0.85"/><circle cx="80.5" cy="92.1" r="0.85"/><circle cx="81.4" cy="68.1" r="0.85"/><circle cx="87.9" cy="65.4" r="0.85"/><circle cx="105.4" cy="58.0" r="0.85"/><circle cx="105.7" cy="48.8" r="0.85"/><circle cx="94.4" cy="70.7" r="0.85"/><circle cx="94.2" cy="76.0" r="0.85"/><circle cx="91.1" cy="72.9" r="0.85"/><circle cx="101.2" cy="54.8" r="0.85"/><circle cx="86.0" cy="65.5" r="0.85"/><circle cx="111.9" cy="46.5" r="0.85"/><circle cx="84.6" cy="70.0" r="0.85"/><circle cx="60.5" cy="103.7" r="0.85"/><circle cx="103.3" cy="38.2" r="0.85"/><circle cx="84.6" cy="61.0" r="0.85"/><circle cx="61.6" cy="87.8" r="0.85"/><circle cx="97.8" cy="52.4" r="0.85"/><circle cx="92.5" cy="71.9" r="0.85"/><circle cx="91.8" cy="54.0" r="0.85"/><circle cx="107.0" cy="54.6" r="0.85"/><circle cx="100.4" cy="51.0" r="0.85"/><circle cx="103.1" cy="56.3" r="0.85"/><circle cx="85.7" cy="79.9" r="0.85"/><circle cx="88.8" cy="75.0" r="0.85"/><circle cx="72.6" cy="98.9" r="0.85"/><circle cx="107.5" cy="61.4" r="0.85"/><circle cx="76.3" cy="83.0" r="0.85"/><circle cx="115.6" cy="32.3" r="0.85"/><circle cx="89.1" cy="79.0" r="0.85"/><circle cx="87.4" cy="79.7" r="0.85"/><circle cx="87.2" cy="67.6" r="0.85"/><circle cx="79.8" cy="86.1" r="0.85"/><circle cx="91.3" cy="68.0" r="0.85"/><circle cx="84.1" cy="81.9" r="0.85"/><circle cx="78.9" cy="86.8" r="0.85"/><circle cx="102.5" cy="58.7" r="0.85"/><circle cx="50.6" cy="103.0" r="0.85"/><circle cx="94.0" cy="72.7" r="0.85"/><circle cx="91.4" cy="94.4" r="0.85"/><circle cx="71.4" cy="77.4" r="0.85"/><circle cx="84.5" cy="74.2" r="0.85"/><circle cx="106.1" cy="63.8" r="0.85"/><circle cx="119.9" cy="45.5" r="0.85"/><circle cx="100.0" cy="69.2" r="0.85"/><circle cx="100.2" cy="59.0" r="0.85"/><circle cx="110.5" cy="58.8" r="0.85"/><circle cx="94.8" cy="48.1" r="0.85"/><circle cx="77.9" cy="78.0" r="0.85"/><circle cx="101.3" cy="62.2" r="0.85"/><circle cx="91.1" cy="55.4" r="0.85"/><circle cx="111.3" cy="42.7" r="0.85"/><circle cx="98.8" cy="70.3" r="0.85"/><circle cx="96.3" cy="46.8" r="0.85"/><circle cx="110.1" cy="61.0" r="0.85"/><circle cx="65.2" cy="99.7" r="0.85"/><circle cx="97.3" cy="66.6" r="0.85"/><circle cx="90.6" cy="65.4" r="0.85"/><circle cx="107.8" cy="49.3" r="0.85"/><circle cx="113.0" cy="58.7" r="0.85"/><circle cx="101.7" cy="53.6" r="0.85"/><circle cx="73.6" cy="74.3" r="0.85"/><circle cx="72.0" cy="99.9" r="0.85"/><circle cx="100.4" cy="46.6" r="0.85"/><circle cx="111.5" cy="57.6" r="0.85"/><circle cx="101.9" cy="44.6" r="0.85"/><circle cx="92.7" cy="65.7" r="0.85"/><circle cx="88.3" cy="64.2" r="0.85"/><circle cx="87.0" cy="77.3" r="0.85"/><circle cx="77.3" cy="90.0" r="0.85"/><circle cx="98.1" cy="56.7" r="0.85"/><circle cx="89.4" cy="79.0" r="0.85"/><circle cx="99.9" cy="56.0" r="0.85"/><circle cx="113.3" cy="50.1" r="0.85"/><circle cx="89.0" cy="65.4" r="0.85"/><circle cx="117.0" cy="42.5" r="0.85"/><circle cx="93.8" cy="73.6" r="0.85"/><circle cx="89.5" cy="61.1" r="0.85"/><circle cx="107.3" cy="41.8" r="0.85"/><circle cx="71.3" cy="80.3" r="0.85"/><circle cx="81.6" cy="72.1" r="0.85"/><circle cx="60.7" cy="99.2" r="0.85"/><circle cx="82.2" cy="65.4" r="0.85"/><circle cx="96.7" cy="50.7" r="0.85"/><circle cx="88.6" cy="52.8" r="0.85"/><circle cx="88.5" cy="53.5" r="0.85"/><circle cx="87.9" cy="79.9" r="0.85"/><circle cx="108.0" cy="54.6" r="0.85"/><circle cx="94.1" cy="76.9" r="0.85"/><circle cx="90.0" cy="68.0" r="0.85"/><circle cx="84.8" cy="70.8" r="0.85"/><circle cx="61.7" cy="89.4" r="0.85"/><circle cx="89.1" cy="56.8" r="0.85"/><circle cx="89.9" cy="75.0" r="0.85"/><circle cx="88.5" cy="68.1" r="0.85"/><circle cx="103.6" cy="59.6" r="0.85"/><circle cx="83.4" cy="71.7" r="0.85"/><circle cx="107.0" cy="67.7" r="0.85"/><circle cx="79.7" cy="85.3" r="0.85"/><circle cx="119.8" cy="28.2" r="0.85"/><circle cx="106.6" cy="48.0" r="0.85"/><circle cx="78.7" cy="70.2" r="0.85"/><circle cx="88.5" cy="77.6" r="0.85"/><circle cx="123.1" cy="48.9" r="0.85"/><circle cx="115.1" cy="42.1" r="0.85"/><circle cx="81.6" cy="75.8" r="0.85"/><circle cx="82.7" cy="74.6" r="0.85"/><circle cx="85.6" cy="84.1" r="0.85"/><circle cx="133.6" cy="29.9" r="0.85"/><circle cx="109.4" cy="50.1" r="0.85"/><circle cx="104.8" cy="65.5" r="0.85"/><circle cx="79.8" cy="108.7" r="0.85"/><circle cx="109.6" cy="45.4" r="0.85"/><circle cx="77.9" cy="73.6" r="0.85"/><circle cx="103.6" cy="29.0" r="0.85"/><circle cx="98.4" cy="52.3" r="0.85"/><circle cx="103.9" cy="48.1" r="0.85"/><circle cx="94.6" cy="68.1" r="0.85"/><circle cx="105.3" cy="42.6" r="0.85"/><circle cx="78.0" cy="91.2" r="0.85"/><circle cx="94.4" cy="48.4" r="0.85"/><circle cx="92.0" cy="82.3" r="0.85"/><circle cx="106.8" cy="45.4" r="0.85"/><circle cx="123.3" cy="34.0" r="0.85"/><circle cx="123.7" cy="41.8" r="0.85"/><circle cx="108.2" cy="49.6" r="0.85"/><circle cx="77.6" cy="83.8" r="0.85"/><circle cx="114.4" cy="34.6" r="0.85"/><circle cx="89.5" cy="59.5" r="0.85"/><circle cx="108.2" cy="42.8" r="0.85"/><circle cx="99.2" cy="57.1" r="0.85"/><circle cx="83.0" cy="76.6" r="0.85"/><circle cx="96.8" cy="68.8" r="0.85"/><circle cx="90.8" cy="66.7" r="0.85"/><circle cx="98.1" cy="51.4" r="0.85"/><circle cx="80.1" cy="82.5" r="0.85"/><circle cx="99.0" cy="63.5" r="0.85"/><circle cx="99.9" cy="63.3" r="0.85"/><circle cx="112.2" cy="48.9" r="0.85"/><circle cx="78.5" cy="73.8" r="0.85"/><circle cx="119.2" cy="57.1" r="0.85"/><circle cx="93.2" cy="65.2" r="0.85"/><circle cx="110.1" cy="35.5" r="0.85"/><circle cx="92.7" cy="80.3" r="0.85"/><circle cx="104.8" cy="45.2" r="0.85"/><circle cx="101.8" cy="56.5" r="0.85"/><circle cx="83.2" cy="53.8" r="0.85"/><circle cx="77.6" cy="94.9" r="0.85"/><circle cx="109.3" cy="47.2" r="0.85"/><circle cx="104.8" cy="51.0" r="0.85"/><circle cx="119.6" cy="26.6" r="0.85"/><circle cx="87.0" cy="62.9" r="0.85"/><circle cx="77.9" cy="96.4" r="0.85"/><circle cx="112.5" cy="50.3" r="0.85"/><circle cx="63.8" cy="95.3" r="0.85"/><circle cx="85.4" cy="69.0" r="0.85"/><circle cx="94.2" cy="71.7" r="0.85"/><circle cx="84.7" cy="67.4" r="0.85"/><circle cx="81.6" cy="76.3" r="0.85"/><circle cx="80.7" cy="74.2" r="0.85"/><circle cx="121.0" cy="32.9" r="0.85"/><circle cx="111.3" cy="43.7" r="0.85"/><circle cx="81.1" cy="80.6" r="0.85"/><circle cx="96.1" cy="59.0" r="0.85"/><circle cx="86.3" cy="67.2" r="0.85"/><circle cx="84.6" cy="73.8" r="0.85"/><circle cx="94.9" cy="74.4" r="0.85"/><circle cx="109.6" cy="48.9" r="0.85"/><circle cx="96.6" cy="62.6" r="0.85"/><circle cx="64.5" cy="107.1" r="0.85"/><circle cx="82.1" cy="68.0" r="0.85"/><circle cx="86.7" cy="66.8" r="0.85"/><circle cx="80.1" cy="86.4" r="0.85"/><circle cx="88.2" cy="61.2" r="0.85"/><circle cx="71.0" cy="89.5" r="0.85"/><circle cx="101.0" cy="56.8" r="0.85"/><circle cx="94.8" cy="57.2" r="0.85"/><circle cx="99.2" cy="68.8" r="0.85"/><circle cx="104.3" cy="61.7" r="0.85"/><circle cx="90.1" cy="55.8" r="0.85"/><circle cx="101.2" cy="64.7" r="0.85"/><circle cx="84.0" cy="60.0" r="0.85"/><circle cx="99.9" cy="71.5" r="0.85"/><circle cx="117.8" cy="35.9" r="0.85"/><circle cx="114.2" cy="41.2" r="0.85"/><circle cx="63.8" cy="101.8" r="0.85"/><circle cx="93.0" cy="67.5" r="0.85"/><circle cx="117.0" cy="48.0" r="0.85"/><circle cx="93.6" cy="65.9" r="0.85"/><circle cx="93.7" cy="74.5" r="0.85"/><circle cx="77.3" cy="104.8" r="0.85"/><circle cx="99.9" cy="60.9" r="0.85"/><circle cx="98.0" cy="70.4" r="0.85"/><circle cx="95.1" cy="72.6" r="0.85"/><circle cx="80.4" cy="75.6" r="0.85"/><circle cx="104.3" cy="49.5" r="0.85"/><circle cx="94.4" cy="68.0" r="0.85"/><circle cx="115.3" cy="32.5" r="0.85"/><circle cx="85.9" cy="82.9" r="0.85"/><circle cx="100.4" cy="55.7" r="0.85"/><circle cx="81.8" cy="56.7" r="0.85"/><circle cx="64.8" cy="101.7" r="0.85"/><circle cx="98.6" cy="51.6" r="0.85"/><circle cx="68.2" cy="94.7" r="0.85"/><circle cx="115.9" cy="30.5" r="0.85"/><circle cx="91.4" cy="67.3" r="0.85"/><circle cx="82.2" cy="73.2" r="0.85"/><circle cx="79.9" cy="97.3" r="0.85"/><circle cx="73.0" cy="85.5" r="0.85"/><circle cx="75.9" cy="73.1" r="0.85"/><circle cx="113.6" cy="36.4" r="0.85"/><circle cx="104.5" cy="44.3" r="0.85"/><circle cx="98.9" cy="52.3" r="0.85"/><circle cx="101.8" cy="50.1" r="0.85"/><circle cx="80.3" cy="84.6" r="0.85"/><circle cx="80.6" cy="71.0" r="0.85"/><circle cx="102.4" cy="63.7" r="0.85"/><circle cx="80.7" cy="83.4" r="0.85"/><circle cx="107.7" cy="52.3" r="0.85"/><circle cx="91.6" cy="73.6" r="0.85"/><circle cx="93.3" cy="51.4" r="0.85"/><circle cx="85.1" cy="77.1" r="0.85"/><circle cx="119.6" cy="32.9" r="0.85"/><circle cx="78.6" cy="70.7" r="0.85"/><circle cx="76.8" cy="77.2" r="0.85"/><circle cx="58.5" cy="109.4" r="0.85"/><circle cx="108.3" cy="56.0" r="0.85"/><circle cx="84.6" cy="73.9" r="0.85"/><circle cx="95.1" cy="68.1" r="0.85"/><circle cx="85.3" cy="57.6" r="0.85"/><circle cx="116.7" cy="39.3" r="0.85"/><circle cx="78.4" cy="85.3" r="0.85"/><circle cx="90.8" cy="63.8" r="0.85"/><circle cx="118.3" cy="45.4" r="0.85"/><circle cx="97.2" cy="65.6" r="0.85"/><circle cx="97.1" cy="68.0" r="0.85"/><circle cx="100.5" cy="48.1" r="0.85"/><circle cx="89.3" cy="72.6" r="0.85"/><circle cx="96.7" cy="74.0" r="0.85"/><circle cx="121.3" cy="49.7" r="0.85"/><circle cx="89.9" cy="77.0" r="0.85"/><circle cx="116.8" cy="46.5" r="0.85"/><circle cx="87.7" cy="54.3" r="0.85"/><circle cx="93.3" cy="72.6" r="0.85"/><circle cx="95.0" cy="62.3" r="0.85"/><circle cx="84.3" cy="76.4" r="0.85"/><circle cx="92.0" cy="60.5" r="0.85"/><circle cx="106.2" cy="45.3" r="0.85"/><circle cx="75.6" cy="85.0" r="0.85"/><circle cx="95.1" cy="53.6" r="0.85"/><circle cx="103.3" cy="74.5" r="0.85"/><circle cx="97.1" cy="66.7" r="0.85"/><circle cx="107.5" cy="32.2" r="0.85"/><circle cx="74.5" cy="94.3" r="0.85"/><circle cx="57.6" cy="89.9" r="0.85"/><circle cx="118.0" cy="45.0" r="0.85"/><circle cx="72.4" cy="97.5" r="0.85"/><circle cx="113.2" cy="41.7" r="0.85"/><circle cx="130.8" cy="43.6" r="0.85"/><circle cx="81.9" cy="77.1" r="0.85"/><circle cx="72.3" cy="80.4" r="0.85"/><circle cx="130.6" cy="29.7" r="0.85"/><circle cx="107.2" cy="27.1" r="0.85"/><circle cx="61.5" cy="85.2" r="0.85"/><circle cx="99.7" cy="31.5" r="0.85"/><circle cx="78.6" cy="54.3" r="0.85"/><circle cx="58.7" cy="92.7" r="0.85"/><circle cx="109.5" cy="64.1" r="0.85"/><circle cx="123.6" cy="31.6" r="0.85"/><circle cx="59.5" cy="113.6" r="0.85"/><circle cx="96.5" cy="55.8" r="0.85"/><circle cx="82.3" cy="62.2" r="0.85"/><circle cx="94.2" cy="57.9" r="0.85"/><circle cx="87.5" cy="52.5" r="0.85"/><circle cx="93.1" cy="52.6" r="0.85"/><circle cx="99.0" cy="52.5" r="0.85"/><circle cx="133.2" cy="31.4" r="0.85"/><circle cx="77.9" cy="83.0" r="0.85"/><circle cx="80.8" cy="86.3" r="0.85"/><circle cx="133.5" cy="52.9" r="0.85"/><circle cx="130.1" cy="39.4" r="0.85"/><circle cx="54.8" cy="120.2" r="0.85"/><circle cx="109.6" cy="47.7" r="0.85"/><circle cx="103.6" cy="76.7" r="0.85"/><circle cx="60.2" cy="117.0" r="0.85"/><circle cx="95.9" cy="59.4" r="0.85"/><circle cx="62.3" cy="96.8" r="0.85"/><circle cx="124.7" cy="31.1" r="0.85"/><circle cx="55.8" cy="103.3" r="0.85"/><circle cx="121.5" cy="42.6" r="0.85"/><circle cx="100.9" cy="71.4" r="0.85"/><circle cx="115.5" cy="42.7" r="0.85"/><circle cx="58.7" cy="100.1" r="0.85"/><circle cx="86.7" cy="75.3" r="0.85"/><circle cx="80.8" cy="78.9" r="0.85"/><circle cx="116.6" cy="40.1" r="0.85"/><circle cx="74.7" cy="96.7" r="0.85"/><circle cx="80.7" cy="85.4" r="0.85"/><circle cx="108.7" cy="58.4" r="0.85"/><circle cx="125.7" cy="30.1" r="0.85"/><circle cx="67.6" cy="85.2" r="0.85"/><circle cx="92.6" cy="58.1" r="0.85"/><circle cx="117.7" cy="45.3" r="0.85"/><circle cx="107.0" cy="43.4" r="0.85"/><circle cx="74.6" cy="93.3" r="0.85"/><circle cx="125.3" cy="34.4" r="0.85"/><circle cx="68.3" cy="88.9" r="0.85"/><circle cx="80.3" cy="67.7" r="0.85"/><circle cx="112.9" cy="55.5" r="0.85"/><circle cx="97.6" cy="80.3" r="0.85"/><circle cx="59.6" cy="98.0" r="0.85"/><circle cx="71.1" cy="96.6" r="0.85"/><circle cx="87.3" cy="59.2" r="0.85"/><circle cx="82.5" cy="76.7" r="0.85"/><circle cx="64.3" cy="94.8" r="0.85"/><circle cx="118.2" cy="38.0" r="0.85"/><circle cx="118.2" cy="51.2" r="0.85"/><circle cx="84.4" cy="77.8" r="0.85"/><circle cx="114.2" cy="28.0" r="0.85"/><circle cx="92.3" cy="65.2" r="0.85"/><circle cx="94.2" cy="66.1" r="0.85"/><circle cx="84.5" cy="48.7" r="0.85"/><circle cx="64.9" cy="82.5" r="0.85"/><circle cx="70.1" cy="65.6" r="0.85"/><circle cx="129.8" cy="50.4" r="0.85"/><circle cx="81.3" cy="70.9" r="0.85"/><circle cx="112.0" cy="49.3" r="0.85"/><circle cx="131.0" cy="25.0" r="0.85"/><circle cx="109.0" cy="43.1" r="0.85"/><circle cx="125.8" cy="37.0" r="0.85"/><circle cx="90.5" cy="97.9" r="0.85"/><circle cx="83.8" cy="67.4" r="0.85"/><circle cx="130.4" cy="21.2" r="0.85"/><circle cx="59.0" cy="94.8" r="0.85"/><circle cx="57.2" cy="90.7" r="0.85"/><circle cx="78.4" cy="77.4" r="0.85"/><circle cx="96.5" cy="56.1" r="0.85"/><circle cx="97.6" cy="79.9" r="0.85"/><circle cx="96.5" cy="70.6" r="0.85"/><circle cx="59.4" cy="94.6" r="0.85"/><circle cx="78.6" cy="77.9" r="0.85"/><circle cx="94.6" cy="91.9" r="0.85"/><circle cx="66.3" cy="99.8" r="0.85"/><circle cx="77.4" cy="66.9" r="0.85"/><circle cx="118.4" cy="26.4" r="0.85"/><circle cx="102.8" cy="58.0" r="0.85"/><circle cx="122.8" cy="43.5" r="0.85"/><circle cx="130.9" cy="25.8" r="0.85"/><circle cx="86.1" cy="69.1" r="0.85"/><circle cx="57.4" cy="97.0" r="0.85"/><circle cx="113.8" cy="38.1" r="0.85"/><circle cx="70.6" cy="79.1" r="0.85"/><circle cx="118.9" cy="38.4" r="0.85"/><circle cx="94.2" cy="72.1" r="0.85"/><circle cx="68.2" cy="101.6" r="0.85"/><circle cx="54.4" cy="105.2" r="0.85"/><circle cx="74.6" cy="80.4" r="0.85"/><circle cx="104.1" cy="63.9" r="0.85"/><circle cx="104.5" cy="43.6" r="0.85"/><circle cx="79.2" cy="95.1" r="0.85"/><circle cx="101.0" cy="37.2" r="0.85"/><circle cx="87.5" cy="84.3" r="0.85"/><circle cx="80.5" cy="81.3" r="0.85"/><circle cx="128.4" cy="27.0" r="0.85"/><circle cx="125.8" cy="24.9" r="0.85"/><circle cx="76.9" cy="72.0" r="0.85"/><circle cx="72.5" cy="68.4" r="0.85"/><circle cx="101.2" cy="40.7" r="0.85"/><circle cx="76.5" cy="56.7" r="0.85"/><circle cx="61.1" cy="101.7" r="0.85"/><circle cx="99.2" cy="69.8" r="0.85"/><circle cx="94.1" cy="51.1" r="0.85"/><circle cx="84.3" cy="81.0" r="0.85"/><circle cx="53.3" cy="114.9" r="0.85"/><circle cx="100.4" cy="57.8" r="0.85"/><circle cx="105.2" cy="58.5" r="0.85"/><circle cx="94.1" cy="63.0" r="0.85"/><circle cx="92.8" cy="86.3" r="0.85"/><circle cx="76.2" cy="107.7" r="0.85"/><circle cx="89.6" cy="49.6" r="0.85"/><circle cx="72.4" cy="74.7" r="0.85"/><circle cx="121.4" cy="34.2" r="0.85"/><circle cx="127.5" cy="40.0" r="0.85"/><circle cx="94.6" cy="77.9" r="0.85"/><circle cx="131.0" cy="20.3" r="0.85"/><circle cx="93.5" cy="75.1" r="0.85"/><circle cx="122.4" cy="34.8" r="0.85"/><circle cx="94.6" cy="68.3" r="0.85"/><circle cx="70.9" cy="80.7" r="0.85"/><circle cx="121.8" cy="25.2" r="0.85"/><circle cx="128.6" cy="62.3" r="0.85"/><circle cx="109.5" cy="43.1" r="0.85"/><circle cx="119.8" cy="57.3" r="0.85"/><circle cx="119.1" cy="29.1" r="0.85"/><circle cx="78.1" cy="59.9" r="0.85"/><circle cx="73.2" cy="82.8" r="0.85"/><circle cx="95.3" cy="64.4" r="0.85"/><circle cx="81.4" cy="72.6" r="0.85"/><circle cx="128.2" cy="46.7" r="0.85"/><circle cx="129.9" cy="31.3" r="0.85"/><circle cx="108.1" cy="53.9" r="0.85"/><circle cx="62.1" cy="71.3" r="0.85"/><circle cx="78.7" cy="82.5" r="0.85"/><circle cx="68.4" cy="97.1" r="0.85"/><circle cx="134.2" cy="43.8" r="0.85"/><circle cx="104.4" cy="39.8" r="0.85"/><circle cx="58.0" cy="86.3" r="0.85"/><circle cx="124.6" cy="31.3" r="0.85"/><circle cx="125.1" cy="55.0" r="0.85"/><circle cx="100.0" cy="41.8" r="0.85"/><circle cx="93.6" cy="70.9" r="0.85"/><circle cx="84.8" cy="75.2" r="0.85"/><circle cx="66.4" cy="89.9" r="0.85"/><circle cx="118.6" cy="37.3" r="0.85"/><circle cx="117.0" cy="23.5" r="0.85"/><circle cx="110.3" cy="58.8" r="0.85"/><circle cx="75.6" cy="83.9" r="0.85"/><circle cx="68.6" cy="101.1" r="0.85"/><circle cx="130.7" cy="42.8" r="0.85"/><circle cx="80.4" cy="53.5" r="0.85"/><circle cx="77.1" cy="93.4" r="0.85"/><circle cx="131.5" cy="50.1" r="0.85"/><circle cx="116.9" cy="63.2" r="0.85"/><circle cx="80.6" cy="80.6" r="0.85"/><circle cx="93.3" cy="50.2" r="0.85"/><circle cx="56.0" cy="92.4" r="0.85"/><circle cx="92.1" cy="78.0" r="0.85"/><circle cx="114.4" cy="43.9" r="0.85"/><circle cx="101.0" cy="49.2" r="0.85"/><circle cx="73.0" cy="87.6" r="0.85"/><circle cx="57.4" cy="96.8" r="0.85"/><circle cx="82.4" cy="105.8" r="0.85"/><circle cx="105.8" cy="57.7" r="0.85"/><circle cx="87.3" cy="78.7" r="0.85"/><circle cx="92.2" cy="61.2" r="0.85"/><circle cx="109.6" cy="39.6" r="0.85"/></g>
<g fill-opacity="0.7"><circle cx="85.5" cy="74.6" r="0.85" fill="#c8c8d0"/><circle cx="91.5" cy="71.9" r="0.85" fill="#b8d0e0"/><circle cx="102.8" cy="52.2" r="0.85" fill="#b3dcc0"/><circle cx="101.7" cy="56.5" r="0.85" fill="#e3b3c6"/><circle cx="105.1" cy="50.8" r="0.85" fill="#b3dcc0"/><circle cx="108.4" cy="49.6" r="0.85" fill="#e3b3c6"/><circle cx="98.4" cy="56.4" r="0.85" fill="#c9b3e0"/><circle cx="93.6" cy="59.2" r="0.85" fill="#c8c8d0"/><circle cx="100.9" cy="56.5" r="0.85" fill="#c8c8d0"/><circle cx="115.7" cy="35.8" r="0.85" fill="#b3dcc0"/><circle cx="100.7" cy="53.5" r="0.85" fill="#c8c8d0"/><circle cx="121.6" cy="32.6" r="0.85" fill="#c9b3e0"/><circle cx="107.3" cy="50.1" r="0.85" fill="#c9b3e0"/><circle cx="82.1" cy="74.2" r="0.85" fill="#c9b3e0"/><circle cx="113.8" cy="28.8" r="0.85" fill="#c9b3e0"/><circle cx="125.9" cy="30.8" r="0.85" fill="#f0c8a8"/><circle cx="112.9" cy="40.8" r="0.85" fill="#c9b3e0"/><circle cx="99.2" cy="50.8" r="0.85" fill="#c8c8d0"/><circle cx="99.4" cy="55.3" r="0.85" fill="#b8d0e0"/><circle cx="99.0" cy="57.3" r="0.85" fill="#f0c8a8"/><circle cx="106.1" cy="53.5" r="0.85" fill="#f0c8a8"/><circle cx="105.8" cy="43.5" r="0.85" fill="#c9b3e0"/><circle cx="120.6" cy="32.6" r="0.85" fill="#c8c8d0"/><circle cx="87.3" cy="63.7" r="0.85" fill="#b3dcc0"/><circle cx="89.3" cy="60.3" r="0.85" fill="#e3b3c6"/><circle cx="81.6" cy="70.6" r="0.85" fill="#d3bedc"/><circle cx="108.1" cy="47.3" r="0.85" fill="#c8c8d0"/><circle cx="100.8" cy="44.5" r="0.85" fill="#b3dcc0"/><circle cx="93.7" cy="56.9" r="0.85" fill="#d3bedc"/><circle cx="100.1" cy="48.8" r="0.85" fill="#d3bedc"/><circle cx="100.0" cy="63.4" r="0.85" fill="#c8c8d0"/><circle cx="96.4" cy="53.0" r="0.85" fill="#e3b3c6"/><circle cx="104.0" cy="44.7" r="0.85" fill="#f0c8a8"/><circle cx="110.0" cy="46.7" r="0.85" fill="#b8d0e0"/><circle cx="89.9" cy="65.8" r="0.85" fill="#f0c8a8"/><circle cx="92.5" cy="53.6" r="0.85" fill="#b8d0e0"/><circle cx="111.5" cy="36.9" r="0.85" fill="#b3dcc0"/><circle cx="102.3" cy="50.9" r="0.85" fill="#d3bedc"/><circle cx="87.8" cy="67.7" r="0.85" fill="#c9b3e0"/><circle cx="99.5" cy="59.5" r="0.85" fill="#f0c8a8"/><circle cx="87.7" cy="65.3" r="0.85" fill="#e3b3c6"/><circle cx="117.7" cy="37.7" r="0.85" fill="#c8c8d0"/><circle cx="76.5" cy="77.6" r="0.85" fill="#c9b3e0"/><circle cx="116.1" cy="39.1" r="0.85" fill="#c9b3e0"/><circle cx="85.3" cy="75.6" r="0.85" fill="#e3b3c6"/><circle cx="106.0" cy="44.2" r="0.85" fill="#e3b3c6"/><circle cx="106.0" cy="51.9" r="0.85" fill="#b3dcc0"/><circle cx="115.4" cy="42.3" r="0.85" fill="#c9b3e0"/><circle cx="113.7" cy="41.6" r="0.85" fill="#b3dcc0"/><circle cx="96.1" cy="62.4" r="0.85" fill="#f0c8a8"/><circle cx="97.0" cy="52.6" r="0.85" fill="#c9b3e0"/><circle cx="117.7" cy="30.7" r="0.85" fill="#d3bedc"/><circle cx="117.1" cy="39.1" r="0.85" fill="#b3dcc0"/><circle cx="105.5" cy="51.3" r="0.85" fill="#b3dcc0"/><circle cx="97.2" cy="48.7" r="0.85" fill="#c8c8d0"/><circle cx="95.7" cy="58.8" r="0.85" fill="#c8c8d0"/><circle cx="103.2" cy="58.9" r="0.85" fill="#b8d0e0"/><circle cx="110.5" cy="43.0" r="0.85" fill="#d3bedc"/><circle cx="97.3" cy="61.0" r="0.85" fill="#b3dcc0"/><circle cx="96.9" cy="43.6" r="0.85" fill="#b8d0e0"/><circle cx="92.0" cy="50.9" r="0.85" fill="#b8d0e0"/><circle cx="110.7" cy="35.0" r="0.85" fill="#b3dcc0"/><circle cx="91.2" cy="64.4" r="0.85" fill="#b8d0e0"/><circle cx="98.7" cy="51.7" r="0.85" fill="#d3bedc"/><circle cx="86.9" cy="74.7" r="0.85" fill="#f0c8a8"/><circle cx="98.5" cy="51.5" r="0.85" fill="#c8c8d0"/><circle cx="76.6" cy="71.7" r="0.85" fill="#c9b3e0"/><circle cx="113.2" cy="46.8" r="0.85" fill="#f0c8a8"/><circle cx="114.6" cy="41.5" r="0.85" fill="#d3bedc"/><circle cx="108.4" cy="46.5" r="0.85" fill="#f0c8a8"/><circle cx="113.2" cy="43.4" r="0.85" fill="#b8d0e0"/><circle cx="116.5" cy="34.5" r="0.85" fill="#b3dcc0"/><circle cx="110.4" cy="36.5" r="0.85" fill="#d3bedc"/><circle cx="71.2" cy="84.5" r="0.85" fill="#f0c8a8"/><circle cx="84.9" cy="75.6" r="0.85" fill="#b8d0e0"/><circle cx="94.8" cy="43.3" r="0.85" fill="#c9b3e0"/><circle cx="107.4" cy="42.6" r="0.85" fill="#b8d0e0"/><circle cx="109.0" cy="37.9" r="0.85" fill="#c9b3e0"/><circle cx="97.7" cy="57.8" r="0.85" fill="#b3dcc0"/><circle cx="107.6" cy="47.2" r="0.85" fill="#c9b3e0"/><circle cx="125.2" cy="20.9" r="0.85" fill="#b3dcc0"/><circle cx="101.4" cy="51.9" r="0.85" fill="#b3dcc0"/><circle cx="89.3" cy="59.2" r="0.85" fill="#e3b3c6"/><circle cx="92.5" cy="64.0" r="0.85" fill="#f0c8a8"/><circle cx="112.8" cy="41.6" r="0.85" fill="#f0c8a8"/><circle cx="115.6" cy="46.7" r="0.85" fill="#b8d0e0"/><circle cx="106.1" cy="52.6" r="0.85" fill="#e3b3c6"/><circle cx="90.2" cy="65.6" r="0.85" fill="#f0c8a8"/><circle cx="89.3" cy="66.4" r="0.85" fill="#d3bedc"/><circle cx="97.1" cy="52.9" r="0.85" fill="#c9b3e0"/><circle cx="80.3" cy="69.7" r="0.85" fill="#b8d0e0"/><circle cx="86.7" cy="69.1" r="0.85" fill="#c9b3e0"/><circle cx="87.0" cy="71.1" r="0.85" fill="#c9b3e0"/><circle cx="116.9" cy="39.0" r="0.85" fill="#f0c8a8"/><circle cx="108.1" cy="53.0" r="0.85" fill="#b3dcc0"/><circle cx="112.7" cy="37.8" r="0.85" fill="#d3bedc"/><circle cx="89.5" cy="66.0" r="0.85" fill="#d3bedc"/><circle cx="90.8" cy="59.9" r="0.85" fill="#c9b3e0"/><circle cx="86.0" cy="68.2" r="0.85" fill="#b8d0e0"/><circle cx="77.1" cy="68.6" r="0.85" fill="#c9b3e0"/><circle cx="92.2" cy="64.4" r="0.85" fill="#f0c8a8"/><circle cx="87.3" cy="67.0" r="0.85" fill="#f0c8a8"/><circle cx="110.2" cy="45.7" r="0.85" fill="#f0c8a8"/><circle cx="101.9" cy="51.7" r="0.85" fill="#b8d0e0"/><circle cx="90.5" cy="67.7" r="0.85" fill="#f0c8a8"/><circle cx="106.7" cy="47.1" r="0.85" fill="#b3dcc0"/><circle cx="115.4" cy="38.5" r="0.85" fill="#f0c8a8"/><circle cx="100.8" cy="48.1" r="0.85" fill="#e3b3c6"/><circle cx="100.5" cy="50.1" r="0.85" fill="#c9b3e0"/><circle cx="98.4" cy="60.1" r="0.85" fill="#b3dcc0"/><circle cx="89.2" cy="68.8" r="0.85" fill="#b8d0e0"/><circle cx="116.9" cy="45.3" r="0.85" fill="#e3b3c6"/><circle cx="106.6" cy="47.6" r="0.85" fill="#f0c8a8"/><circle cx="89.2" cy="66.2" r="0.85" fill="#f0c8a8"/><circle cx="99.8" cy="55.8" r="0.85" fill="#f0c8a8"/><circle cx="87.0" cy="61.2" r="0.85" fill="#d3bedc"/><circle cx="100.8" cy="53.4" r="0.85" fill="#d3bedc"/><circle cx="73.6" cy="77.8" r="0.85" fill="#b8d0e0"/><circle cx="98.1" cy="56.6" r="0.85" fill="#c8c8d0"/><circle cx="106.1" cy="54.6" r="0.85" fill="#b8d0e0"/><circle cx="95.6" cy="65.6" r="0.85" fill="#b3dcc0"/><circle cx="115.2" cy="46.6" r="0.85" fill="#b3dcc0"/><circle cx="81.3" cy="67.1" r="0.85" fill="#c9b3e0"/><circle cx="111.4" cy="46.4" r="0.85" fill="#c8c8d0"/><circle cx="121.8" cy="28.9" r="0.85" fill="#b8d0e0"/><circle cx="103.2" cy="57.8" r="0.85" fill="#b8d0e0"/><circle cx="105.4" cy="59.8" r="0.85" fill="#c9b3e0"/><circle cx="109.9" cy="38.0" r="0.85" fill="#b3dcc0"/><circle cx="115.4" cy="40.1" r="0.85" fill="#b3dcc0"/><circle cx="80.7" cy="78.4" r="0.85" fill="#e3b3c6"/><circle cx="99.1" cy="59.2" r="0.85" fill="#e3b3c6"/><circle cx="104.9" cy="56.6" r="0.85" fill="#e3b3c6"/><circle cx="93.6" cy="56.3" r="0.85" fill="#e3b3c6"/><circle cx="119.5" cy="35.1" r="0.85" fill="#e3b3c6"/><circle cx="104.7" cy="48.0" r="0.85" fill="#d3bedc"/><circle cx="81.5" cy="82.7" r="0.85" fill="#b8d0e0"/><circle cx="96.5" cy="63.1" r="0.85" fill="#c9b3e0"/><circle cx="90.3" cy="67.4" r="0.85" fill="#c9b3e0"/><circle cx="108.0" cy="45.0" r="0.85" fill="#d3bedc"/><circle cx="109.6" cy="41.8" r="0.85" fill="#e3b3c6"/><circle cx="97.2" cy="50.9" r="0.85" fill="#e3b3c6"/><circle cx="99.0" cy="65.7" r="0.85" fill="#c9b3e0"/><circle cx="105.6" cy="48.7" r="0.85" fill="#b8d0e0"/><circle cx="88.5" cy="69.3" r="0.85" fill="#b8d0e0"/><circle cx="97.2" cy="56.0" r="0.85" fill="#b8d0e0"/><circle cx="95.7" cy="52.6" r="0.85" fill="#b8d0e0"/><circle cx="72.9" cy="81.9" r="0.85" fill="#d3bedc"/><circle cx="91.8" cy="63.7" r="0.85" fill="#e3b3c6"/><circle cx="91.2" cy="64.5" r="0.85" fill="#c8c8d0"/><circle cx="93.1" cy="48.1" r="0.85" fill="#c8c8d0"/><circle cx="101.4" cy="48.3" r="0.85" fill="#b8d0e0"/><circle cx="95.1" cy="57.6" r="0.85" fill="#e3b3c6"/><circle cx="97.2" cy="59.0" r="0.85" fill="#b8d0e0"/><circle cx="124.3" cy="27.9" r="0.85" fill="#d3bedc"/><circle cx="92.6" cy="63.9" r="0.85" fill="#b3dcc0"/><circle cx="89.3" cy="64.6" r="0.85" fill="#c8c8d0"/><circle cx="85.0" cy="70.7" r="0.85" fill="#b3dcc0"/><circle cx="106.9" cy="46.6" r="0.85" fill="#b3dcc0"/><circle cx="96.5" cy="61.2" r="0.85" fill="#e3b3c6"/><circle cx="123.8" cy="25.1" r="0.85" fill="#b3dcc0"/><circle cx="103.1" cy="53.8" r="0.85" fill="#d3bedc"/><circle cx="83.4" cy="64.4" r="0.85" fill="#f0c8a8"/><circle cx="91.6" cy="56.9" r="0.85" fill="#f0c8a8"/><circle cx="103.6" cy="55.5" r="0.85" fill="#b8d0e0"/><circle cx="108.9" cy="51.8" r="0.85" fill="#c8c8d0"/><circle cx="78.7" cy="85.1" r="0.85" fill="#f0c8a8"/><circle cx="83.6" cy="71.5" r="0.85" fill="#d3bedc"/><circle cx="101.9" cy="49.5" r="0.85" fill="#e3b3c6"/><circle cx="102.8" cy="50.9" r="0.85" fill="#c9b3e0"/><circle cx="105.0" cy="44.0" r="0.85" fill="#b3dcc0"/><circle cx="94.1" cy="64.3" r="0.85" fill="#b3dcc0"/><circle cx="74.6" cy="78.0" r="0.85" fill="#d3bedc"/><circle cx="109.9" cy="46.7" r="0.85" fill="#b3dcc0"/><circle cx="106.0" cy="46.8" r="0.85" fill="#c9b3e0"/><circle cx="122.8" cy="27.4" r="0.85" fill="#c8c8d0"/><circle cx="105.4" cy="51.0" r="0.85" fill="#f0c8a8"/><circle cx="117.8" cy="30.8" r="0.85" fill="#c8c8d0"/><circle cx="98.1" cy="52.8" r="0.85" fill="#b3dcc0"/><circle cx="109.3" cy="48.0" r="0.85" fill="#c8c8d0"/><circle cx="80.3" cy="65.6" r="0.85" fill="#b8d0e0"/><circle cx="113.8" cy="39.9" r="0.85" fill="#c8c8d0"/><circle cx="106.0" cy="49.3" r="0.85" fill="#b8d0e0"/><circle cx="94.0" cy="55.5" r="0.85" fill="#c9b3e0"/><circle cx="99.2" cy="58.2" r="0.85" fill="#c9b3e0"/><circle cx="96.6" cy="64.2" r="0.85" fill="#b8d0e0"/><circle cx="111.3" cy="40.8" r="0.85" fill="#b8d0e0"/><circle cx="93.1" cy="58.1" r="0.85" fill="#b3dcc0"/><circle cx="97.2" cy="55.8" r="0.85" fill="#b8d0e0"/><circle cx="79.1" cy="73.6" r="0.85" fill="#c9b3e0"/><circle cx="86.3" cy="78.5" r="0.85" fill="#b8d0e0"/><circle cx="84.7" cy="74.8" r="0.85" fill="#f0c8a8"/><circle cx="104.6" cy="49.8" r="0.85" fill="#c8c8d0"/><circle cx="97.0" cy="60.2" r="0.85" fill="#e3b3c6"/><circle cx="88.7" cy="66.3" r="0.85" fill="#e3b3c6"/><circle cx="98.3" cy="59.8" r="0.85" fill="#c8c8d0"/><circle cx="71.1" cy="82.7" r="0.85" fill="#e3b3c6"/><circle cx="92.9" cy="68.1" r="0.85" fill="#b3dcc0"/><circle cx="96.7" cy="56.7" r="0.85" fill="#f0c8a8"/><circle cx="106.9" cy="52.2" r="0.85" fill="#b8d0e0"/><circle cx="103.4" cy="50.6" r="0.85" fill="#c9b3e0"/><circle cx="106.5" cy="42.6" r="0.85" fill="#b3dcc0"/><circle cx="103.6" cy="47.5" r="0.85" fill="#f0c8a8"/><circle cx="101.5" cy="55.0" r="0.85" fill="#c9b3e0"/><circle cx="80.2" cy="79.9" r="0.85" fill="#c9b3e0"/><circle cx="90.7" cy="67.5" r="0.85" fill="#f0c8a8"/><circle cx="84.1" cy="69.8" r="0.85" fill="#b3dcc0"/><circle cx="93.6" cy="61.2" r="0.85" fill="#e3b3c6"/><circle cx="109.3" cy="47.4" r="0.85" fill="#b3dcc0"/><circle cx="93.8" cy="61.6" r="0.85" fill="#b3dcc0"/><circle cx="118.4" cy="31.6" r="0.85" fill="#c8c8d0"/><circle cx="94.8" cy="58.2" r="0.85" fill="#d3bedc"/><circle cx="108.3" cy="44.3" r="0.85" fill="#e3b3c6"/><circle cx="110.0" cy="56.9" r="0.85" fill="#b8d0e0"/><circle cx="100.3" cy="52.4" r="0.85" fill="#b8d0e0"/><circle cx="100.3" cy="46.4" r="0.85" fill="#c8c8d0"/><circle cx="97.5" cy="52.3" r="0.85" fill="#e3b3c6"/><circle cx="119.3" cy="31.4" r="0.85" fill="#b3dcc0"/><circle cx="100.4" cy="60.4" r="0.85" fill="#f0c8a8"/><circle cx="88.3" cy="73.1" r="0.85" fill="#d3bedc"/><circle cx="107.0" cy="47.0" r="0.85" fill="#b8d0e0"/><circle cx="82.9" cy="81.8" r="0.85" fill="#b8d0e0"/><circle cx="112.7" cy="40.2" r="0.85" fill="#e3b3c6"/><circle cx="104.8" cy="54.2" r="0.85" fill="#c9b3e0"/><circle cx="95.6" cy="55.0" r="0.85" fill="#c9b3e0"/><circle cx="98.7" cy="48.3" r="0.85" fill="#f0c8a8"/><circle cx="115.4" cy="37.8" r="0.85" fill="#b8d0e0"/><circle cx="97.4" cy="57.4" r="0.85" fill="#e3b3c6"/><circle cx="123.0" cy="33.2" r="0.85" fill="#b3dcc0"/><circle cx="119.5" cy="44.3" r="0.85" fill="#d3bedc"/><circle cx="115.3" cy="38.5" r="0.85" fill="#c9b3e0"/><circle cx="93.0" cy="58.1" r="0.85" fill="#e3b3c6"/><circle cx="109.1" cy="39.4" r="0.85" fill="#c9b3e0"/><circle cx="99.4" cy="57.3" r="0.85" fill="#d3bedc"/><circle cx="86.4" cy="72.4" r="0.85" fill="#c9b3e0"/><circle cx="72.5" cy="78.1" r="0.85" fill="#c8c8d0"/><circle cx="90.1" cy="62.5" r="0.85" fill="#b3dcc0"/><circle cx="112.1" cy="45.2" r="0.85" fill="#b3dcc0"/><circle cx="102.0" cy="51.0" r="0.85" fill="#b8d0e0"/><circle cx="114.3" cy="42.6" r="0.85" fill="#b3dcc0"/><circle cx="95.4" cy="60.4" r="0.85" fill="#c8c8d0"/><circle cx="111.3" cy="49.2" r="0.85" fill="#c9b3e0"/><circle cx="103.4" cy="51.3" r="0.85" fill="#d3bedc"/><circle cx="101.9" cy="44.8" r="0.85" fill="#f0c8a8"/><circle cx="93.4" cy="58.9" r="0.85" fill="#f0c8a8"/><circle cx="104.8" cy="53.5" r="0.85" fill="#d3bedc"/><circle cx="87.3" cy="60.7" r="0.85" fill="#c9b3e0"/><circle cx="85.1" cy="62.7" r="0.85" fill="#c8c8d0"/><circle cx="123.8" cy="31.7" r="0.85" fill="#c8c8d0"/><circle cx="113.6" cy="38.7" r="0.85" fill="#f0c8a8"/><circle cx="114.8" cy="32.3" r="0.85" fill="#b3dcc0"/><circle cx="96.1" cy="56.8" r="0.85" fill="#b3dcc0"/><circle cx="116.3" cy="33.6" r="0.85" fill="#c9b3e0"/><circle cx="106.2" cy="56.3" r="0.85" fill="#b3dcc0"/><circle cx="90.1" cy="73.4" r="0.85" fill="#d3bedc"/><circle cx="107.1" cy="45.5" r="0.85" fill="#b8d0e0"/><circle cx="115.0" cy="39.1" r="0.85" fill="#d3bedc"/><circle cx="83.7" cy="77.0" r="0.85" fill="#e3b3c6"/><circle cx="99.0" cy="54.4" r="0.85" fill="#f0c8a8"/><circle cx="85.6" cy="69.4" r="0.85" fill="#d3bedc"/><circle cx="96.6" cy="62.7" r="0.85" fill="#c8c8d0"/><circle cx="111.5" cy="53.3" r="0.85" fill="#b8d0e0"/><circle cx="96.1" cy="59.0" r="0.85" fill="#c9b3e0"/><circle cx="103.7" cy="55.2" r="0.85" fill="#d3bedc"/><circle cx="121.3" cy="32.1" r="0.85" fill="#c9b3e0"/><circle cx="99.1" cy="53.4" r="0.85" fill="#e3b3c6"/><circle cx="102.7" cy="58.5" r="0.85" fill="#c8c8d0"/><circle cx="101.4" cy="60.9" r="0.85" fill="#f0c8a8"/><circle cx="102.3" cy="52.4" r="0.85" fill="#b8d0e0"/><circle cx="100.5" cy="52.6" r="0.85" fill="#e3b3c6"/><circle cx="85.2" cy="80.2" r="0.85" fill="#f0c8a8"/><circle cx="91.1" cy="72.1" r="0.85" fill="#b8d0e0"/><circle cx="87.6" cy="70.8" r="0.85" fill="#b3dcc0"/><circle cx="73.9" cy="81.7" r="0.85" fill="#c9b3e0"/><circle cx="88.3" cy="58.9" r="0.85" fill="#b3dcc0"/><circle cx="99.4" cy="54.8" r="0.85" fill="#b3dcc0"/><circle cx="85.3" cy="63.4" r="0.85" fill="#d3bedc"/><circle cx="122.2" cy="38.7" r="0.85" fill="#d3bedc"/><circle cx="95.4" cy="55.1" r="0.85" fill="#c8c8d0"/><circle cx="94.3" cy="66.0" r="0.85" fill="#b8d0e0"/><circle cx="109.5" cy="45.3" r="0.85" fill="#e3b3c6"/><circle cx="102.6" cy="47.7" r="0.85" fill="#f0c8a8"/><circle cx="101.6" cy="54.7" r="0.85" fill="#c9b3e0"/><circle cx="111.5" cy="40.5" r="0.85" fill="#c9b3e0"/><circle cx="100.9" cy="51.8" r="0.85" fill="#d3bedc"/><circle cx="87.8" cy="71.8" r="0.85" fill="#d3bedc"/><circle cx="98.4" cy="61.2" r="0.85" fill="#b3dcc0"/><circle cx="83.6" cy="70.2" r="0.85" fill="#c9b3e0"/><circle cx="96.9" cy="53.7" r="0.85" fill="#d3bedc"/><circle cx="108.7" cy="48.6" r="0.85" fill="#b3dcc0"/><circle cx="106.2" cy="47.8" r="0.85" fill="#d3bedc"/><circle cx="85.1" cy="71.5" r="0.85" fill="#b3dcc0"/><circle cx="106.3" cy="42.0" r="0.85" fill="#b8d0e0"/><circle cx="102.7" cy="56.1" r="0.85" fill="#e3b3c6"/><circle cx="113.4" cy="38.9" r="0.85" fill="#c8c8d0"/><circle cx="95.4" cy="59.3" r="0.85" fill="#c9b3e0"/><circle cx="110.7" cy="49.5" r="0.85" fill="#c9b3e0"/><circle cx="113.6" cy="45.1" r="0.85" fill="#c8c8d0"/><circle cx="94.5" cy="59.6" r="0.85" fill="#c9b3e0"/><circle cx="97.4" cy="59.2" r="0.85" fill="#f0c8a8"/><circle cx="110.1" cy="38.8" r="0.85" fill="#e3b3c6"/><circle cx="88.3" cy="68.6" r="0.85" fill="#f0c8a8"/><circle cx="109.3" cy="53.4" r="0.85" fill="#b8d0e0"/><circle cx="112.5" cy="45.9" r="0.85" fill="#d3bedc"/><circle cx="77.5" cy="86.1" r="0.85" fill="#e3b3c6"/><circle cx="85.1" cy="62.6" r="0.85" fill="#c9b3e0"/><circle cx="103.4" cy="46.4" r="0.85" fill="#b3dcc0"/><circle cx="128.7" cy="35.1" r="0.85" fill="#c8c8d0"/><circle cx="111.1" cy="40.8" r="0.85" fill="#d3bedc"/><circle cx="98.9" cy="55.5" r="0.85" fill="#d3bedc"/><circle cx="106.6" cy="48.5" r="0.85" fill="#e3b3c6"/><circle cx="68.4" cy="85.8" r="0.85" fill="#b8d0e0"/><circle cx="119.0" cy="31.8" r="0.85" fill="#b8d0e0"/><circle cx="99.7" cy="55.7" r="0.85" fill="#c8c8d0"/><circle cx="88.7" cy="65.2" r="0.85" fill="#b8d0e0"/><circle cx="104.0" cy="46.2" r="0.85" fill="#c9b3e0"/><circle cx="96.5" cy="52.3" r="0.85" fill="#b8d0e0"/><circle cx="100.7" cy="55.9" r="0.85" fill="#e3b3c6"/><circle cx="97.0" cy="53.2" r="0.85" fill="#c8c8d0"/><circle cx="112.4" cy="40.0" r="0.85" fill="#c9b3e0"/><circle cx="92.1" cy="60.6" r="0.85" fill="#b8d0e0"/><circle cx="98.9" cy="58.3" r="0.85" fill="#e3b3c6"/><circle cx="87.7" cy="68.5" r="0.85" fill="#c9b3e0"/><circle cx="88.3" cy="67.4" r="0.85" fill="#c9b3e0"/><circle cx="109.9" cy="42.0" r="0.85" fill="#c8c8d0"/><circle cx="120.0" cy="29.9" r="0.85" fill="#c9b3e0"/><circle cx="98.7" cy="55.0" r="0.85" fill="#f0c8a8"/><circle cx="71.4" cy="87.8" r="0.85" fill="#c8c8d0"/><circle cx="96.1" cy="58.5" r="0.85" fill="#c9b3e0"/><circle cx="107.9" cy="38.1" r="0.85" fill="#e3b3c6"/><circle cx="95.0" cy="59.1" r="0.85" fill="#f0c8a8"/><circle cx="80.8" cy="79.1" r="0.85" fill="#b3dcc0"/><circle cx="96.1" cy="58.5" r="0.85" fill="#b3dcc0"/><circle cx="102.1" cy="58.2" r="0.85" fill="#c8c8d0"/><circle cx="77.9" cy="82.5" r="0.85" fill="#b8d0e0"/><circle cx="88.0" cy="70.9" r="0.85" fill="#c9b3e0"/><circle cx="121.2" cy="32.0" r="0.85" fill="#b3dcc0"/><circle cx="109.0" cy="54.0" r="0.85" fill="#b3dcc0"/><circle cx="110.6" cy="46.3" r="0.85" fill="#c8c8d0"/><circle cx="101.2" cy="63.7" r="0.85" fill="#c9b3e0"/><circle cx="97.5" cy="53.9" r="0.85" fill="#c8c8d0"/><circle cx="102.9" cy="46.5" r="0.85" fill="#f0c8a8"/><circle cx="107.8" cy="43.1" r="0.85" fill="#e3b3c6"/><circle cx="97.0" cy="59.7" r="0.85" fill="#c9b3e0"/><circle cx="100.4" cy="56.0" r="0.85" fill="#b8d0e0"/><circle cx="80.7" cy="66.5" r="0.85" fill="#c9b3e0"/><circle cx="101.0" cy="52.6" r="0.85" fill="#c8c8d0"/><circle cx="89.3" cy="65.0" r="0.85" fill="#b3dcc0"/><circle cx="106.2" cy="45.5" r="0.85" fill="#f0c8a8"/><circle cx="103.1" cy="51.9" r="0.85" fill="#c9b3e0"/><circle cx="102.2" cy="54.2" r="0.85" fill="#c9b3e0"/><circle cx="100.5" cy="58.8" r="0.85" fill="#c8c8d0"/><circle cx="102.5" cy="48.0" r="0.85" fill="#b8d0e0"/><circle cx="90.7" cy="65.2" r="0.85" fill="#e3b3c6"/><circle cx="92.7" cy="65.5" r="0.85" fill="#f0c8a8"/><circle cx="113.2" cy="44.7" r="0.85" fill="#b3dcc0"/><circle cx="109.2" cy="46.1" r="0.85" fill="#d3bedc"/><circle cx="101.7" cy="52.1" r="0.85" fill="#e3b3c6"/><circle cx="99.4" cy="57.7" r="0.85" fill="#b3dcc0"/><circle cx="98.0" cy="57.9" r="0.85" fill="#e3b3c6"/><circle cx="101.9" cy="57.7" r="0.85" fill="#d3bedc"/><circle cx="98.3" cy="59.8" r="0.85" fill="#f0c8a8"/><circle cx="113.9" cy="38.5" r="0.85" fill="#e3b3c6"/><circle cx="91.0" cy="73.1" r="0.85" fill="#c8c8d0"/><circle cx="110.5" cy="43.4" r="0.85" fill="#b3dcc0"/><circle cx="105.3" cy="47.7" r="0.85" fill="#f0c8a8"/><circle cx="91.1" cy="65.0" r="0.85" fill="#d3bedc"/><circle cx="128.2" cy="30.9" r="0.85" fill="#b3dcc0"/><circle cx="97.8" cy="53.8" r="0.85" fill="#b8d0e0"/><circle cx="112.2" cy="39.8" r="0.85" fill="#b8d0e0"/><circle cx="104.3" cy="43.5" r="0.85" fill="#e3b3c6"/><circle cx="109.5" cy="46.9" r="0.85" fill="#d3bedc"/><circle cx="91.3" cy="59.5" r="0.85" fill="#b3dcc0"/><circle cx="91.6" cy="58.2" r="0.85" fill="#d3bedc"/><circle cx="85.4" cy="71.6" r="0.85" fill="#e3b3c6"/><circle cx="105.1" cy="48.5" r="0.85" fill="#f0c8a8"/></g>
<circle cx="110.90" cy="33.20" r="1.2" fill="#b3163f" fill-opacity="0.9"/>
<circle cx="110.90" cy="36.00" r="1.2" fill="#b3163f" fill-opacity="0.9"/>
<circle cx="116.10" cy="36.40" r="1.2" fill="#8a1f55" fill-opacity="0.9"/>
<circle cx="117.00" cy="37.60" r="1.2" fill="#b3163f" fill-opacity="0.9"/>
<circle cx="120.50" cy="36.80" r="1.2" fill="#b3163f" fill-opacity="0.9"/>
<circle cx="110.10" cy="40.70" r="1.2" fill="#b3163f" fill-opacity="0.9"/>
<circle cx="110.90" cy="42.30" r="1.2" fill="#8a1f55" fill-opacity="0.9"/>
<circle cx="112.20" cy="43.00" r="1.2" fill="#b3163f" fill-opacity="0.9"/>
<circle cx="114.30" cy="42.30" r="1.2" fill="#a02a60" fill-opacity="0.9"/>
<circle cx="97.80" cy="39.90" r="1.2" fill="#2aa14a" fill-opacity="0.9"/>
<circle cx="99.80" cy="40.70" r="1.2" fill="#2aa14a" fill-opacity="0.9"/>
<circle cx="103.00" cy="44.30" r="1.2" fill="#d07a3a" fill-opacity="0.9"/>
<circle cx="103.40" cy="45.90" r="1.2" fill="#c0622a" fill-opacity="0.9"/>
<circle cx="103.80" cy="47.60" r="1.2" fill="#e98f2a" fill-opacity="0.9"/>
<circle cx="110.90" cy="46.90" r="1.2" fill="#4a1a6a" fill-opacity="0.9"/>
<circle cx="112.20" cy="47.30" r="1.2" fill="#4a1a6a" fill-opacity="0.9"/>
<circle cx="90.20" cy="48.40" r="1.2" fill="#e98f2a" fill-opacity="0.9"/>
<circle cx="87.80" cy="53.10" r="1.2" fill="#4a1a6a" fill-opacity="0.9"/>
<circle cx="88.60" cy="54.70" r="1.2" fill="#4a1a6a" fill-opacity="0.9"/>
<circle cx="91.70" cy="52.30" r="1.2" fill="#4a1a6a" fill-opacity="0.9"/>
<circle cx="94.00" cy="51.60" r="1.2" fill="#4a1a6a" fill-opacity="0.9"/>
<circle cx="95.70" cy="52.80" r="1.2" fill="#4a1a6a" fill-opacity="0.9"/>
<circle cx="98.40" cy="53.70" r="1.2" fill="#4a1a6a" fill-opacity="0.9"/>
<circle cx="110.90" cy="52.70" r="1.2" fill="#0e6b5e" fill-opacity="0.9"/>
<circle cx="106.50" cy="51.00" r="1.2" fill="#2aa14a" fill-opacity="0.9"/>
<circle cx="87.80" cy="58.60" r="1.2" fill="#2aa14a" fill-opacity="0.9"/>
<circle cx="89.40" cy="57.80" r="1.2" fill="#2aa14a" fill-opacity="0.9"/>
<circle cx="93.30" cy="57.80" r="1.2" fill="#b3163f" fill-opacity="0.9"/>
<circle cx="94.80" cy="58.60" r="1.2" fill="#b3163f" fill-opacity="0.9"/>
<circle cx="84.70" cy="57.00" r="1.2" fill="#4a1a6a" fill-opacity="0.9"/>
<circle cx="84.70" cy="62.50" r="1.2" fill="#2a2a6a" fill-opacity="0.9"/>
<circle cx="86.20" cy="60.50" r="1.2" fill="#e98f2a" fill-opacity="0.9"/>
<circle cx="78.40" cy="60.20" r="1.2" fill="#e98f2a" fill-opacity="0.9"/>
<circle cx="77.20" cy="62.00" r="1.2" fill="#e98f2a" fill-opacity="0.9"/>
<circle cx="74.50" cy="64.80" r="1.2" fill="#2a2a6a" fill-opacity="0.9"/>
<circle cx="80.80" cy="68.00" r="1.2" fill="#4a1a6a" fill-opacity="0.9"/>
<circle cx="83.90" cy="67.20" r="1.2" fill="#4a1a6a" fill-opacity="0.9"/>
<circle cx="68.30" cy="71.10" r="1.2" fill="#2a2a6a" fill-opacity="0.9"/>
<circle cx="71.40" cy="71.10" r="1.2" fill="#2a2a6a" fill-opacity="0.9"/>
<circle cx="76.90" cy="70.30" r="1.2" fill="#e98f2a" fill-opacity="0.9"/>
<circle cx="91.00" cy="62.50" r="1.2" fill="#2aa14a" fill-opacity="0.9"/>
<circle cx="97.50" cy="58.50" r="1.2" fill="#6a3a80" fill-opacity="0.9"/>
<circle cx="81.50" cy="72.80" r="1.2" fill="#b05a4a" fill-opacity="0.9"/>
<circle cx="100.50" cy="49.50" r="1.2" fill="#e98f2a" fill-opacity="0.9"/>
<line x1="30.0" y1="131.0" x2="143.97039999999998" y2="17.029600000000016" stroke="#111" stroke-width="1.1"/>
<line x1="30" y1="16.3" x2="30" y2="131.7" stroke="#151515" stroke-width="1.5"/>
<line x1="29.3" y1="131" x2="144" y2="131" stroke="#151515" stroke-width="1.5"/>
<line x1="26.8" y1="100.0241" x2="30" y2="100.0241" stroke="#231f20" stroke-width="1.1"/>
<text x="23.7" y="102.8741" font-size="8.0" text-anchor="end" fill="#231f20" stroke="#231f20" stroke-width="0.12">5</text>
<line x1="60.9759" y1="131" x2="60.9759" y2="134.2" stroke="#231f20" stroke-width="1.1"/>
<text x="60.9759" y="142.8" font-size="8.0" text-anchor="middle" fill="#231f20" stroke="#231f20" stroke-width="0.12">5</text>
<line x1="26.8" y1="67.34909999999999" x2="30" y2="67.34909999999999" stroke="#231f20" stroke-width="1.1"/>
<text x="23.7" y="70.19909999999999" font-size="8.0" text-anchor="end" fill="#231f20" stroke="#231f20" stroke-width="0.12">7.5</text>
<line x1="93.65090000000001" y1="131" x2="93.65090000000001" y2="134.2" stroke="#231f20" stroke-width="1.1"/>
<text x="93.65090000000001" y="142.8" font-size="8.0" text-anchor="middle" fill="#231f20" stroke="#231f20" stroke-width="0.12">7.5</text>
<line x1="26.8" y1="34.674099999999996" x2="30" y2="34.674099999999996" stroke="#231f20" stroke-width="1.1"/>
<text x="23.7" y="37.5241" font-size="8.0" text-anchor="end" fill="#231f20" stroke="#231f20" stroke-width="0.12">10</text>
<line x1="126.3259" y1="131" x2="126.3259" y2="134.2" stroke="#231f20" stroke-width="1.1"/>
<text x="126.3259" y="142.8" font-size="8.0" text-anchor="middle" fill="#231f20" stroke="#231f20" stroke-width="0.12">10</text>
<text transform="translate(47.6 155.6) scale(0.7214 1)" font-size="9.2" fill="#231f20" stroke="#231f20" stroke-width="0.3">Log<tspan font-size="5.2" dy="1.8" dx="0.5">2</tspan><tspan dy="-1.8" dx="0.7">[HbF low read counts]</tspan></text>
<text transform="translate(7.3 113.6) rotate(-90) scale(0.7170 1)" font-size="9.2" fill="#231f20" stroke="#231f20" stroke-width="0.3">Log<tspan font-size="5.2" dy="1.8" dx="0.5">2</tspan><tspan dy="-1.8" dx="0.7">[HbF high read counts]</tspan></text>
<text x="73.8" y="172" font-size="7.2" textLength="26.2" lengthAdjust="spacingAndGlyphs" fill="#231f20" stroke="#231f20" stroke-width="0.1">sgRNAs</text>
<circle cx="28.30" cy="180.00" r="1.55" fill="#b3213f"/>
<text x="33.2" y="182.3" font-size="7.2" textLength="31.2" lengthAdjust="spacingAndGlyphs" fill="#231f20" stroke="#231f20" stroke-width="0.1">SYNCRIP</text>
<circle cx="75.80" cy="180.00" r="1.55" fill="#eda060"/>
<text x="80.7" y="182.3" font-size="7.2" textLength="28.3" lengthAdjust="spacingAndGlyphs" fill="#231f20" stroke="#231f20" stroke-width="0.1">hnRNPM</text>
<circle cx="118.90" cy="180.00" r="1.55" fill="#5fa865"/>
<text x="123.80000000000001" y="182.3" font-size="7.2" textLength="22.2" lengthAdjust="spacingAndGlyphs" fill="#231f20" stroke="#231f20" stroke-width="0.1">PTBP1</text>
<circle cx="28.30" cy="190.20" r="1.55" fill="#4a1650"/>
<text x="33.2" y="192.5" font-size="7.2" textLength="24.9" lengthAdjust="spacingAndGlyphs" fill="#231f20" stroke="#231f20" stroke-width="0.1">RBM12</text>
<circle cx="75.80" cy="190.20" r="1.55" fill="#0f6458"/>
<text x="80.7" y="192.5" font-size="7.2" textLength="42.5" lengthAdjust="spacingAndGlyphs" fill="#231f20" stroke="#231f20" stroke-width="0.1">Non-targeting</text>
<text x="158.2" y="9.8" font-size="10.8" font-weight="bold" fill="#231f20">B</text>
<rect x="189.75" y="114.50" width="8.50" height="16.50" fill="#6fb3a0"/>
<rect x="202.33" y="74.08" width="8.50" height="56.92" fill="#e3879b"/>
<rect x="214.91" y="60.88" width="8.50" height="70.12" fill="#e3879b"/>
<rect x="227.49" y="96.62" width="8.50" height="34.38" fill="#fbc57c"/>
<rect x="240.07" y="99.92" width="8.50" height="31.08" fill="#fbc57c"/>
<rect x="252.65" y="91.12" width="8.50" height="39.88" fill="#93d3a1"/>
<rect x="265.23" y="87.55" width="8.50" height="43.45" fill="#93d3a1"/>
<rect x="277.81" y="96.90" width="8.50" height="34.10" fill="#ab8dbe"/>
<rect x="290.39" y="92.78" width="8.50" height="38.22" fill="#ab8dbe"/>
<rect x="302.97" y="55.92" width="8.50" height="75.08" fill="#80a7c8"/>
<line x1="194.0" y1="113.675" x2="194.0" y2="115.325" stroke="#1f1f1f" stroke-width="1.1"/>
<line x1="191.3" y1="113.675" x2="196.7" y2="113.675" stroke="#1f1f1f" stroke-width="1.2"/>
<line x1="191.3" y1="115.325" x2="196.7" y2="115.325" stroke="#1f1f1f" stroke-width="1.2"/>
<polygon points="194.00,111.79 191.99,113.81 194.00,115.82 196.01,113.81" fill="#0e5a4c"/>
<circle cx="194.60" cy="114.58" r="1.55" fill="#0e5a4c"/>
<polygon points="193.70,117.05 191.84,113.64 195.56,113.64" fill="#0e5a4c"/>
<line x1="206.58" y1="71.05" x2="206.58" y2="76.55" stroke="#1f1f1f" stroke-width="1.1"/>
<line x1="203.88000000000002" y1="71.05" x2="209.28" y2="71.05" stroke="#1f1f1f" stroke-width="1.2"/>
<line x1="203.88000000000002" y1="76.55" x2="209.28" y2="76.55" stroke="#1f1f1f" stroke-width="1.2"/>
<circle cx="206.58" cy="71.49" r="1.55" fill="#b3163f"/>
<polygon points="207.18,76.21 205.32,72.80 209.04,72.80" fill="#b3163f"/>
<polygon points="206.28,74.25 204.42,77.66 208.14,77.66" fill="#b3163f"/>
<line x1="219.16" y1="54.0" x2="219.16" y2="67.75" stroke="#1f1f1f" stroke-width="1.1"/>
<line x1="216.46" y1="54.0" x2="221.85999999999999" y2="54.0" stroke="#1f1f1f" stroke-width="1.2"/>
<line x1="216.46" y1="67.75" x2="221.85999999999999" y2="67.75" stroke="#1f1f1f" stroke-width="1.2"/>
<polygon points="219.16,56.96 217.30,53.55 221.02,53.55" fill="#b3163f"/>
<polygon points="219.76,59.70 217.90,63.11 221.62,63.11" fill="#b3163f"/>
<rect x="217.31" y="65.10" width="3.10" height="3.10" fill="#b3163f"/>
<line x1="231.74" y1="87.825" x2="231.74" y2="104.875" stroke="#1f1f1f" stroke-width="1.1"/>
<line x1="229.04000000000002" y1="87.825" x2="234.44" y2="87.825" stroke="#1f1f1f" stroke-width="1.2"/>
<line x1="229.04000000000002" y1="104.875" x2="234.44" y2="104.875" stroke="#1f1f1f" stroke-width="1.2"/>
<polygon points="231.74,87.33 229.88,90.74 233.60,90.74" fill="#e08a23"/>
<rect x="230.79" y="95.93" width="3.10" height="3.10" fill="#e08a23"/>
<polygon points="231.44,101.50 229.43,103.51 231.44,105.53 233.45,103.51" fill="#e08a23"/>
<line x1="244.32" y1="97.725" x2="244.32" y2="101.85" stroke="#1f1f1f" stroke-width="1.1"/>
<line x1="241.62" y1="97.725" x2="247.01999999999998" y2="97.725" stroke="#1f1f1f" stroke-width="1.2"/>
<line x1="241.62" y1="101.85" x2="247.01999999999998" y2="101.85" stroke="#1f1f1f" stroke-width="1.2"/>
<rect x="242.77" y="96.51" width="3.10" height="3.10" fill="#e08a23"/>
<polygon points="244.92,98.12 242.91,100.13 244.92,102.15 246.93,100.13" fill="#e08a23"/>
<circle cx="244.02" cy="101.52" r="1.55" fill="#e08a23"/>
<line x1="256.9" y1="85.35" x2="256.9" y2="97.725" stroke="#1f1f1f" stroke-width="1.1"/>
<line x1="254.2" y1="85.35" x2="259.59999999999997" y2="85.35" stroke="#1f1f1f" stroke-width="1.2"/>
<line x1="254.2" y1="97.725" x2="259.59999999999997" y2="97.725" stroke="#1f1f1f" stroke-width="1.2"/>
<polygon points="256.90,84.33 254.88,86.34 256.90,88.36 258.91,86.34" fill="#2f9447"/>
<circle cx="257.50" cy="91.74" r="1.55" fill="#2f9447"/>
<polygon points="256.60,98.59 254.74,95.19 258.46,95.19" fill="#2f9447"/>
<line x1="269.48" y1="85.9" x2="269.48" y2="89.475" stroke="#1f1f1f" stroke-width="1.1"/>
<line x1="266.78000000000003" y1="85.9" x2="272.18" y2="85.9" stroke="#1f1f1f" stroke-width="1.2"/>
<line x1="266.78000000000003" y1="89.475" x2="272.18" y2="89.475" stroke="#1f1f1f" stroke-width="1.2"/>
<circle cx="269.48" cy="86.19" r="1.55" fill="#2f9447"/>
<polygon points="270.08,89.59 268.22,86.18 271.94,86.18" fill="#2f9447"/>
<polygon points="269.18,87.33 267.32,90.74 271.04,90.74" fill="#2f9447"/>
<line x1="282.06" y1="95.8" x2="282.06" y2="98.0" stroke="#1f1f1f" stroke-width="1.1"/>
<line x1="279.36" y1="95.8" x2="284.76" y2="95.8" stroke="#1f1f1f" stroke-width="1.2"/>
<line x1="279.36" y1="98.0" x2="284.76" y2="98.0" stroke="#1f1f1f" stroke-width="1.2"/>
<polygon points="282.06,97.84 280.20,94.43 283.92,94.43" fill="#4f1f5e"/>
<polygon points="282.66,95.15 280.80,98.56 284.52,98.56" fill="#4f1f5e"/>
<rect x="280.21" y="96.27" width="3.10" height="3.10" fill="#4f1f5e"/>
<line x1="294.64" y1="91.4" x2="294.64" y2="94.15" stroke="#1f1f1f" stroke-width="1.1"/>
<line x1="291.94" y1="91.4" x2="297.34" y2="91.4" stroke="#1f1f1f" stroke-width="1.2"/>
<line x1="291.94" y1="94.15" x2="297.34" y2="94.15" stroke="#1f1f1f" stroke-width="1.2"/>
<polygon points="294.64,89.76 292.78,93.17 296.50,93.17" fill="#4f1f5e"/>
<rect x="293.69" y="91.36" width="3.10" height="3.10" fill="#4f1f5e"/>
<polygon points="294.34,91.92 292.32,93.93 294.34,95.95 296.35,93.93" fill="#4f1f5e"/>
<line x1="307.22" y1="52.625" x2="307.22" y2="59.5" stroke="#1f1f1f" stroke-width="1.1"/>
<line x1="304.52000000000004" y1="52.625" x2="309.92" y2="52.625" stroke="#1f1f1f" stroke-width="1.2"/>
<line x1="304.52000000000004" y1="59.5" x2="309.92" y2="59.5" stroke="#1f1f1f" stroke-width="1.2"/>
<rect x="305.67" y="51.62" width="3.10" height="3.10" fill="#1f4f7a"/>
<polygon points="307.82,54.25 305.81,56.27 307.82,58.28 309.84,56.27" fill="#1f4f7a"/>
<circle cx="306.92" cy="58.95" r="1.55" fill="#1f4f7a"/>
<circle cx="206.58" cy="66.80" r="1.1" fill="#1a1a1a"/>
<circle cx="219.16" cy="49.40" r="1.1" fill="#1a1a1a"/>
<circle cx="256.90" cy="80.20" r="1.1" fill="#1a1a1a"/>
<circle cx="282.06" cy="90.20" r="1.1" fill="#1a1a1a"/>
<circle cx="294.64" cy="86.40" r="1.1" fill="#1a1a1a"/>
<circle cx="307.22" cy="45.80" r="1.1" fill="#1a1a1a"/>
<line x1="186" y1="17.5" x2="186" y2="131.7" stroke="#151515" stroke-width="1.5"/>
<line x1="185.3" y1="131" x2="316.5" y2="131" stroke="#151515" stroke-width="1.5"/>
<line x1="182.8" y1="131.0" x2="186" y2="131.0" stroke="#231f20" stroke-width="1.2"/>
<text x="180.2" y="133.85" font-size="8.0" text-anchor="end" fill="#231f20" stroke="#231f20" stroke-width="0.12">0</text>
<line x1="182.8" y1="103.5" x2="186" y2="103.5" stroke="#231f20" stroke-width="1.2"/>
<text x="180.2" y="106.35" font-size="8.0" text-anchor="end" fill="#231f20" stroke="#231f20" stroke-width="0.12">10</text>
<line x1="182.8" y1="76.0" x2="186" y2="76.0" stroke="#231f20" stroke-width="1.2"/>
<text x="180.2" y="78.85" font-size="8.0" text-anchor="end" fill="#231f20" stroke="#231f20" stroke-width="0.12">20</text>
<line x1="182.8" y1="48.5" x2="186" y2="48.5" stroke="#231f20" stroke-width="1.2"/>
<text x="180.2" y="51.35" font-size="8.0" text-anchor="end" fill="#231f20" stroke="#231f20" stroke-width="0.12">30</text>
<line x1="182.8" y1="21.0" x2="186" y2="21.0" stroke="#231f20" stroke-width="1.2"/>
<text x="180.2" y="23.85" font-size="8.0" text-anchor="end" fill="#231f20" stroke="#231f20" stroke-width="0.12">40</text>
<line x1="194.0" y1="131" x2="194.0" y2="133.2" stroke="#231f20" stroke-width="0.9"/>
<line x1="206.58" y1="131" x2="206.58" y2="133.2" stroke="#231f20" stroke-width="0.9"/>
<line x1="219.16" y1="131" x2="219.16" y2="133.2" stroke="#231f20" stroke-width="0.9"/>
<line x1="231.74" y1="131" x2="231.74" y2="133.2" stroke="#231f20" stroke-width="0.9"/>
<line x1="244.32" y1="131" x2="244.32" y2="133.2" stroke="#231f20" stroke-width="0.9"/>
<line x1="256.9" y1="131" x2="256.9" y2="133.2" stroke="#231f20" stroke-width="0.9"/>
<line x1="269.48" y1="131" x2="269.48" y2="133.2" stroke="#231f20" stroke-width="0.9"/>
<line x1="282.06" y1="131" x2="282.06" y2="133.2" stroke="#231f20" stroke-width="0.9"/>
<line x1="294.64" y1="131" x2="294.64" y2="133.2" stroke="#231f20" stroke-width="0.9"/>
<line x1="307.22" y1="131" x2="307.22" y2="133.2" stroke="#231f20" stroke-width="0.9"/>
<text x="194.0" y="142.9" font-size="8.0" text-anchor="middle" fill="#231f20" stroke="#231f20" stroke-width="0.12">NT</text>
<text x="206.58" y="142.9" font-size="8.0" text-anchor="middle" fill="#231f20" stroke="#231f20" stroke-width="0.12">1</text>
<text x="219.16" y="142.9" font-size="8.0" text-anchor="middle" fill="#231f20" stroke="#231f20" stroke-width="0.12">2</text>
<text x="231.74" y="142.9" font-size="8.0" text-anchor="middle" fill="#231f20" stroke="#231f20" stroke-width="0.12">1</text>
<text x="244.32" y="142.9" font-size="8.0" text-anchor="middle" fill="#231f20" stroke="#231f20" stroke-width="0.12">2</text>
<text x="256.9" y="142.9" font-size="8.0" text-anchor="middle" fill="#231f20" stroke="#231f20" stroke-width="0.12">1</text>
<text x="269.48" y="142.9" font-size="8.0" text-anchor="middle" fill="#231f20" stroke="#231f20" stroke-width="0.12">2</text>
<text x="282.06" y="142.9" font-size="8.0" text-anchor="middle" fill="#231f20" stroke="#231f20" stroke-width="0.12">1</text>
<text x="294.64" y="142.9" font-size="8.0" text-anchor="middle" fill="#231f20" stroke="#231f20" stroke-width="0.12">2</text>
<text x="300.72" y="142.9" font-size="7.4" textLength="30" lengthAdjust="spacingAndGlyphs" fill="#231f20">BCL11A</text>
<line x1="206.58" y1="145.8" x2="219.16000000000003" y2="145.8" stroke="#231f20" stroke-width="0.9"/>
<text x="208.57" y="153.5" font-size="6.3" text-anchor="middle" textLength="27.2" lengthAdjust="spacingAndGlyphs" fill="#231f20" stroke="#231f20" stroke-width="0.08">SYNCRIP</text>
<line x1="231.74" y1="145.8" x2="244.32000000000002" y2="145.8" stroke="#231f20" stroke-width="0.9"/>
<text x="237.53000000000003" y="153.5" font-size="6.3" text-anchor="middle" textLength="23.2" lengthAdjust="spacingAndGlyphs" fill="#231f20" stroke="#231f20" stroke-width="0.08">hnRNPM</text>
<line x1="256.9" y1="145.8" x2="269.47999999999996" y2="145.8" stroke="#231f20" stroke-width="0.9"/>
<text x="262.68999999999994" y="153.5" font-size="6.3" text-anchor="middle" textLength="18.6" lengthAdjust="spacingAndGlyphs" fill="#231f20" stroke="#231f20" stroke-width="0.08">PTBP1</text>
<line x1="282.06" y1="145.8" x2="294.64" y2="145.8" stroke="#231f20" stroke-width="0.9"/>
<text x="287.85" y="153.5" font-size="6.3" text-anchor="middle" textLength="21.4" lengthAdjust="spacingAndGlyphs" fill="#231f20" stroke="#231f20" stroke-width="0.08">RBM12</text>
<text x="234.1" y="10.2" font-size="9.3" textLength="33.7" lengthAdjust="spacingAndGlyphs" fill="#231f20" stroke="#231f20" stroke-width="0.12">%F cells</text>
<text transform="translate(164.6 76.2) rotate(-90)" font-size="8.4" text-anchor="middle" fill="#231f20" stroke="#231f20" stroke-width="0.25" textLength="24.7" lengthAdjust="spacingAndGlyphs">%F cells</text>
<rect x="378.75" y="118.90" width="8.30" height="12.10" fill="#6fb3a0"/>
<rect x="391.36" y="97.12" width="8.30" height="33.88" fill="#e3879b"/>
<rect x="403.97" y="82.05" width="8.30" height="48.95" fill="#e3879b"/>
<rect x="416.58" y="101.30" width="8.30" height="29.70" fill="#fbc57c"/>
<rect x="429.19" y="113.40" width="8.30" height="17.60" fill="#fbc57c"/>
<rect x="441.80" y="106.25" width="8.30" height="24.75" fill="#93d3a1"/>
<rect x="454.41" y="89.75" width="8.30" height="41.25" fill="#93d3a1"/>
<rect x="467.02" y="89.75" width="8.30" height="41.25" fill="#ab8dbe"/>
<rect x="479.63" y="91.40" width="8.30" height="39.60" fill="#ab8dbe"/>
<rect x="492.24" y="42.45" width="8.30" height="88.55" fill="#80a7c8"/>
<line x1="382.9" y1="111.2" x2="382.9" y2="125.5" stroke="#1f1f1f" stroke-width="1.1"/>
<line x1="380.2" y1="111.2" x2="385.59999999999997" y2="111.2" stroke="#1f1f1f" stroke-width="1.2"/>
<line x1="380.2" y1="125.5" x2="385.59999999999997" y2="125.5" stroke="#1f1f1f" stroke-width="1.2"/>
<polygon points="382.90,110.33 380.88,112.34 382.90,114.36 384.91,112.34" fill="#0e5a4c"/>
<circle cx="383.50" cy="119.61" r="1.55" fill="#0e5a4c"/>
<polygon points="382.60,126.22 380.74,122.81 384.46,122.81" fill="#0e5a4c"/>
<line x1="395.51" y1="92.5" x2="395.51" y2="101.85" stroke="#1f1f1f" stroke-width="1.1"/>
<line x1="392.81" y1="92.5" x2="398.21" y2="92.5" stroke="#1f1f1f" stroke-width="1.2"/>
<line x1="392.81" y1="101.85" x2="398.21" y2="101.85" stroke="#1f1f1f" stroke-width="1.2"/>
<circle cx="395.51" cy="93.25" r="1.55" fill="#b3163f"/>
<polygon points="396.11,99.45 394.25,96.04 397.97,96.04" fill="#b3163f"/>
<polygon points="395.21,99.24 393.35,102.65 397.07,102.65" fill="#b3163f"/>
<line x1="408.12" y1="67.2" x2="408.12" y2="95.8" stroke="#1f1f1f" stroke-width="1.1"/>
<line x1="405.42" y1="67.2" x2="410.82" y2="67.2" stroke="#1f1f1f" stroke-width="1.2"/>
<line x1="405.42" y1="95.8" x2="410.82" y2="95.8" stroke="#1f1f1f" stroke-width="1.2"/>
<polygon points="408.12,71.35 406.26,67.94 409.98,67.94" fill="#b3163f"/>
<polygon points="408.72,81.62 406.86,85.03 410.58,85.03" fill="#b3163f"/>
<rect x="406.27" y="91.96" width="3.10" height="3.10" fill="#b3163f"/>
<line x1="420.72999999999996" y1="95.8" x2="420.72999999999996" y2="106.8" stroke="#1f1f1f" stroke-width="1.1"/>
<line x1="418.03" y1="95.8" x2="423.42999999999995" y2="95.8" stroke="#1f1f1f" stroke-width="1.2"/>
<line x1="418.03" y1="106.8" x2="423.42999999999995" y2="106.8" stroke="#1f1f1f" stroke-width="1.2"/>
<polygon points="420.73,94.82 418.87,98.23 422.59,98.23" fill="#e08a23"/>
<rect x="419.78" y="100.30" width="3.10" height="3.10" fill="#e08a23"/>
<polygon points="420.43,103.91 418.41,105.92 420.43,107.94 422.44,105.92" fill="#e08a23"/>
<line x1="433.34" y1="106.8" x2="433.34" y2="119.34" stroke="#1f1f1f" stroke-width="1.1"/>
<line x1="430.64" y1="106.8" x2="436.03999999999996" y2="106.8" stroke="#1f1f1f" stroke-width="1.2"/>
<line x1="430.64" y1="119.34" x2="436.03999999999996" y2="119.34" stroke="#1f1f1f" stroke-width="1.2"/>
<rect x="431.79" y="106.25" width="3.10" height="3.10" fill="#e08a23"/>
<polygon points="433.94,112.01 431.93,114.03 433.94,116.04 435.95,114.03" fill="#e08a23"/>
<circle cx="433.04" cy="118.34" r="1.55" fill="#e08a23"/>
<line x1="445.95" y1="93.6" x2="445.95" y2="118.9" stroke="#1f1f1f" stroke-width="1.1"/>
<line x1="443.25" y1="93.6" x2="448.65" y2="93.6" stroke="#1f1f1f" stroke-width="1.2"/>
<line x1="443.25" y1="118.9" x2="448.65" y2="118.9" stroke="#1f1f1f" stroke-width="1.2"/>
<polygon points="445.95,93.61 443.94,95.62 445.95,97.64 447.96,95.62" fill="#2f9447"/>
<circle cx="446.55" cy="107.52" r="1.55" fill="#2f9447"/>
<polygon points="445.65,118.74 443.79,115.33 447.51,115.33" fill="#2f9447"/>
<line x1="458.55999999999995" y1="58.95" x2="458.55999999999995" y2="120.33" stroke="#1f1f1f" stroke-width="1.1"/>
<line x1="455.85999999999996" y1="58.95" x2="461.25999999999993" y2="58.95" stroke="#1f1f1f" stroke-width="1.2"/>
<line x1="455.85999999999996" y1="120.33" x2="461.25999999999993" y2="120.33" stroke="#1f1f1f" stroke-width="1.2"/>
<circle cx="458.56" cy="63.86" r="1.55" fill="#2f9447"/>
<polygon points="459.16,94.68 457.30,91.27 461.02,91.27" fill="#2f9447"/>
<polygon points="458.26,113.56 456.40,116.97 460.12,116.97" fill="#2f9447"/>
<line x1="471.16999999999996" y1="66.1" x2="471.16999999999996" y2="112.3" stroke="#1f1f1f" stroke-width="1.1"/>
<line x1="468.46999999999997" y1="66.1" x2="473.86999999999995" y2="66.1" stroke="#1f1f1f" stroke-width="1.2"/>
<line x1="468.46999999999997" y1="112.3" x2="473.86999999999995" y2="112.3" stroke="#1f1f1f" stroke-width="1.2"/>
<polygon points="471.17,71.66 469.31,68.25 473.03,68.25" fill="#4f1f5e"/>
<polygon points="471.77,90.20 469.91,93.61 473.63,93.61" fill="#4f1f5e"/>
<rect x="469.32" y="107.05" width="3.10" height="3.10" fill="#4f1f5e"/>
<line x1="483.78" y1="66.1" x2="483.78" y2="115.6" stroke="#1f1f1f" stroke-width="1.1"/>
<line x1="481.08" y1="66.1" x2="486.47999999999996" y2="66.1" stroke="#1f1f1f" stroke-width="1.2"/>
<line x1="481.08" y1="115.6" x2="486.47999999999996" y2="115.6" stroke="#1f1f1f" stroke-width="1.2"/>
<polygon points="483.78,68.20 481.92,71.61 485.64,71.61" fill="#4f1f5e"/>
<rect x="482.83" y="92.33" width="3.10" height="3.10" fill="#4f1f5e"/>
<polygon points="483.48,109.62 481.46,111.64 483.48,113.66 485.49,111.64" fill="#4f1f5e"/>
<line x1="496.39" y1="32.0" x2="496.39" y2="51.8" stroke="#1f1f1f" stroke-width="1.1"/>
<line x1="493.69" y1="32.0" x2="499.09" y2="32.0" stroke="#1f1f1f" stroke-width="1.2"/>
<line x1="493.69" y1="51.8" x2="499.09" y2="51.8" stroke="#1f1f1f" stroke-width="1.2"/>
<rect x="494.84" y="32.03" width="3.10" height="3.10" fill="#1f4f7a"/>
<polygon points="496.99,41.42 494.98,43.44 496.99,45.45 499.00,43.44" fill="#1f4f7a"/>
<circle cx="496.09" cy="50.22" r="1.55" fill="#1f4f7a"/>
<circle cx="420.73" cy="89.70" r="1.1" fill="#1a1a1a"/>
<circle cx="496.39" cy="27.30" r="1.1" fill="#1a1a1a"/>
<line x1="374.5" y1="17" x2="374.5" y2="131.7" stroke="#151515" stroke-width="1.5"/>
<line x1="373.8" y1="131" x2="505.1" y2="131" stroke="#151515" stroke-width="1.5"/>
<line x1="371.3" y1="131.0" x2="374.5" y2="131.0" stroke="#231f20" stroke-width="1.2"/>
<text x="368.7" y="133.85" font-size="8.0" text-anchor="end" fill="#231f20" stroke="#231f20" stroke-width="0.12">0</text>
<line x1="371.3" y1="109.0" x2="374.5" y2="109.0" stroke="#231f20" stroke-width="1.2"/>
<text x="368.7" y="111.85" font-size="8.0" text-anchor="end" fill="#231f20" stroke="#231f20" stroke-width="0.12">2</text>
<line x1="371.3" y1="87.0" x2="374.5" y2="87.0" stroke="#231f20" stroke-width="1.2"/>
<text x="368.7" y="89.85" font-size="8.0" text-anchor="end" fill="#231f20" stroke="#231f20" stroke-width="0.12">4</text>
<line x1="371.3" y1="65.0" x2="374.5" y2="65.0" stroke="#231f20" stroke-width="1.2"/>
<text x="368.7" y="67.85" font-size="8.0" text-anchor="end" fill="#231f20" stroke="#231f20" stroke-width="0.12">6</text>
<line x1="371.3" y1="43.0" x2="374.5" y2="43.0" stroke="#231f20" stroke-width="1.2"/>
<text x="368.7" y="45.85" font-size="8.0" text-anchor="end" fill="#231f20" stroke="#231f20" stroke-width="0.12">8</text>
<line x1="371.3" y1="21.0" x2="374.5" y2="21.0" stroke="#231f20" stroke-width="1.2"/>
<text x="368.7" y="23.85" font-size="8.0" text-anchor="end" fill="#231f20" stroke="#231f20" stroke-width="0.12">10</text>
<line x1="382.9" y1="131" x2="382.9" y2="133.2" stroke="#231f20" stroke-width="0.9"/>
<line x1="395.51" y1="131" x2="395.51" y2="133.2" stroke="#231f20" stroke-width="0.9"/>
<line x1="408.12" y1="131" x2="408.12" y2="133.2" stroke="#231f20" stroke-width="0.9"/>
<line x1="420.72999999999996" y1="131" x2="420.72999999999996" y2="133.2" stroke="#231f20" stroke-width="0.9"/>
<line x1="433.34" y1="131" x2="433.34" y2="133.2" stroke="#231f20" stroke-width="0.9"/>
<line x1="445.95" y1="131" x2="445.95" y2="133.2" stroke="#231f20" stroke-width="0.9"/>
<line x1="458.55999999999995" y1="131" x2="458.55999999999995" y2="133.2" stroke="#231f20" stroke-width="0.9"/>
<line x1="471.16999999999996" y1="131" x2="471.16999999999996" y2="133.2" stroke="#231f20" stroke-width="0.9"/>
<line x1="483.78" y1="131" x2="483.78" y2="133.2" stroke="#231f20" stroke-width="0.9"/>
<line x1="496.39" y1="131" x2="496.39" y2="133.2" stroke="#231f20" stroke-width="0.9"/>
<text x="382.9" y="142.9" font-size="8.0" text-anchor="middle" fill="#231f20" stroke="#231f20" stroke-width="0.12">NT</text>
<text x="395.51" y="142.9" font-size="8.0" text-anchor="middle" fill="#231f20" stroke="#231f20" stroke-width="0.12">1</text>
<text x="408.12" y="142.9" font-size="8.0" text-anchor="middle" fill="#231f20" stroke="#231f20" stroke-width="0.12">2</text>
<text x="420.72999999999996" y="142.9" font-size="8.0" text-anchor="middle" fill="#231f20" stroke="#231f20" stroke-width="0.12">1</text>
<text x="433.34" y="142.9" font-size="8.0" text-anchor="middle" fill="#231f20" stroke="#231f20" stroke-width="0.12">2</text>
<text x="445.95" y="142.9" font-size="8.0" text-anchor="middle" fill="#231f20" stroke="#231f20" stroke-width="0.12">1</text>
<text x="458.55999999999995" y="142.9" font-size="8.0" text-anchor="middle" fill="#231f20" stroke="#231f20" stroke-width="0.12">2</text>
<text x="471.16999999999996" y="142.9" font-size="8.0" text-anchor="middle" fill="#231f20" stroke="#231f20" stroke-width="0.12">1</text>
<text x="483.78" y="142.9" font-size="8.0" text-anchor="middle" fill="#231f20" stroke="#231f20" stroke-width="0.12">2</text>
<text x="489.89" y="142.9" font-size="7.4" textLength="30" lengthAdjust="spacingAndGlyphs" fill="#231f20">BCL11A</text>
<line x1="395.51" y1="145.8" x2="408.12" y2="145.8" stroke="#231f20" stroke-width="0.9"/>
<text x="397.515" y="153.5" font-size="6.3" text-anchor="middle" textLength="27.2" lengthAdjust="spacingAndGlyphs" fill="#231f20" stroke="#231f20" stroke-width="0.08">SYNCRIP</text>
<line x1="420.72999999999996" y1="145.8" x2="433.34" y2="145.8" stroke="#231f20" stroke-width="0.9"/>
<text x="426.53499999999997" y="153.5" font-size="6.3" text-anchor="middle" textLength="23.2" lengthAdjust="spacingAndGlyphs" fill="#231f20" stroke="#231f20" stroke-width="0.08">hnRNPM</text>
<line x1="445.95" y1="145.8" x2="458.56" y2="145.8" stroke="#231f20" stroke-width="0.9"/>
<text x="451.755" y="153.5" font-size="6.3" text-anchor="middle" textLength="18.6" lengthAdjust="spacingAndGlyphs" fill="#231f20" stroke="#231f20" stroke-width="0.08">PTBP1</text>
<line x1="471.16999999999996" y1="145.8" x2="483.78" y2="145.8" stroke="#231f20" stroke-width="0.9"/>
<text x="476.97499999999997" y="153.5" font-size="6.3" text-anchor="middle" textLength="21.4" lengthAdjust="spacingAndGlyphs" fill="#231f20" stroke="#231f20" stroke-width="0.08">RBM12</text>
<text x="424.9" y="10.2" font-size="9.3" textLength="30.3" lengthAdjust="spacingAndGlyphs" fill="#231f20" stroke="#231f20" stroke-width="0.12">%HBG</text>
<text transform="translate(353.6 75.8) rotate(-90)" font-size="8.4" text-anchor="middle" fill="#231f20" stroke="#231f20" stroke-width="0.25" textLength="77.8" lengthAdjust="spacingAndGlyphs">HBG/(HBG+HBB+HBE) %</text>
<text x="1.0" y="223.6" font-size="10.8" font-weight="bold" fill="#231f20">C</text>
<rect x="33.80" y="300.16" width="8.20" height="27.24" fill="#6fb3a0"/>
<rect x="46.31" y="294.71" width="8.20" height="32.69" fill="#e3879b"/>
<rect x="58.82" y="290.82" width="8.20" height="36.58" fill="#e3879b"/>
<rect x="71.33" y="282.26" width="8.20" height="45.14" fill="#fbc57c"/>
<rect x="83.84" y="295.49" width="8.20" height="31.91" fill="#fbc57c"/>
<rect x="96.35" y="285.84" width="8.20" height="41.56" fill="#93d3a1"/>
<rect x="108.86" y="277.59" width="8.20" height="49.81" fill="#93d3a1"/>
<rect x="121.37" y="259.53" width="8.20" height="67.87" fill="#ab8dbe"/>
<rect x="133.88" y="260.46" width="8.20" height="66.94" fill="#ab8dbe"/>
<rect x="146.39" y="267.31" width="8.20" height="60.09" fill="#80a7c8"/>
<line x1="37.9" y1="291.5959" x2="37.9" y2="307.94124999999997" stroke="#1f1f1f" stroke-width="1.1"/>
<line x1="35.199999999999996" y1="291.5959" x2="40.6" y2="291.5959" stroke="#1f1f1f" stroke-width="1.2"/>
<line x1="35.199999999999996" y1="307.94124999999997" x2="40.6" y2="307.94124999999997" stroke="#1f1f1f" stroke-width="1.2"/>
<polygon points="37.90,290.89 35.88,292.90 37.90,294.92 39.91,292.90" fill="#0e5a4c"/>
<circle cx="38.50" cy="300.98" r="1.55" fill="#0e5a4c"/>
<polygon points="37.60,308.49 35.74,305.08 39.46,305.08" fill="#0e5a4c"/>
<line x1="50.41" y1="287.39281" x2="50.41" y2="303.42681999999996" stroke="#1f1f1f" stroke-width="1.1"/>
<line x1="47.709999999999994" y1="287.39281" x2="53.11" y2="287.39281" stroke="#1f1f1f" stroke-width="1.2"/>
<line x1="47.709999999999994" y1="303.42681999999996" x2="53.11" y2="303.42681999999996" stroke="#1f1f1f" stroke-width="1.2"/>
<circle cx="50.41" cy="288.68" r="1.55" fill="#b3163f"/>
<polygon points="51.01,297.37 49.15,293.96 52.87,293.96" fill="#b3163f"/>
<polygon points="50.11,300.28 48.25,303.69 51.97,303.69" fill="#b3163f"/>
<line x1="62.92" y1="281.63302" x2="62.92" y2="300.93609999999995" stroke="#1f1f1f" stroke-width="1.1"/>
<line x1="60.22" y1="281.63302" x2="65.62" y2="281.63302" stroke="#1f1f1f" stroke-width="1.2"/>
<line x1="60.22" y1="300.93609999999995" x2="65.62" y2="300.93609999999995" stroke="#1f1f1f" stroke-width="1.2"/>
<polygon points="62.92,285.04 61.06,281.63 64.78,281.63" fill="#b3163f"/>
<polygon points="63.52,289.92 61.66,293.33 65.38,293.33" fill="#b3163f"/>
<rect x="61.07" y="297.84" width="3.10" height="3.10" fill="#b3163f"/>
<line x1="75.43" y1="269.8021" x2="75.43" y2="294.7093" stroke="#1f1f1f" stroke-width="1.1"/>
<line x1="72.73" y1="269.8021" x2="78.13000000000001" y2="269.8021" stroke="#1f1f1f" stroke-width="1.2"/>
<line x1="72.73" y1="294.7093" x2="78.13000000000001" y2="294.7093" stroke="#1f1f1f" stroke-width="1.2"/>
<polygon points="75.43,269.93 73.57,273.34 77.29,273.34" fill="#e08a23"/>
<rect x="74.48" y="281.95" width="3.10" height="3.10" fill="#e08a23"/>
<polygon points="75.13,290.70 73.12,292.72 75.13,294.73 77.15,292.72" fill="#e08a23"/>
<line x1="87.94" y1="294.39795999999996" x2="87.94" y2="296.73301" stroke="#1f1f1f" stroke-width="1.1"/>
<line x1="85.24" y1="294.39795999999996" x2="90.64" y2="294.39795999999996" stroke="#1f1f1f" stroke-width="1.2"/>
<line x1="85.24" y1="296.73301" x2="90.64" y2="296.73301" stroke="#1f1f1f" stroke-width="1.2"/>
<rect x="86.39" y="293.03" width="3.10" height="3.10" fill="#e08a23"/>
<polygon points="88.54,293.59 86.52,295.60 88.54,297.62 90.55,295.60" fill="#e08a23"/>
<circle cx="87.64" cy="296.55" r="1.55" fill="#e08a23"/>
<line x1="100.44999999999999" y1="264.82066" x2="100.44999999999999" y2="307.62991" stroke="#1f1f1f" stroke-width="1.1"/>
<line x1="97.74999999999999" y1="264.82066" x2="103.14999999999999" y2="264.82066" stroke="#1f1f1f" stroke-width="1.2"/>
<line x1="97.74999999999999" y1="307.62991" x2="103.14999999999999" y2="307.62991" stroke="#1f1f1f" stroke-width="1.2"/>
<polygon points="100.45,266.23 98.43,268.25 100.45,270.26 102.46,268.25" fill="#2f9447"/>
<circle cx="101.05" cy="287.98" r="1.55" fill="#2f9447"/>
<polygon points="100.15,306.07 98.29,302.66 102.01,302.66" fill="#2f9447"/>
<line x1="112.96000000000001" y1="262.0186" x2="112.96000000000001" y2="293.93095" stroke="#1f1f1f" stroke-width="1.1"/>
<line x1="110.26" y1="262.0186" x2="115.66000000000001" y2="262.0186" stroke="#1f1f1f" stroke-width="1.2"/>
<line x1="110.26" y1="293.93095" x2="115.66000000000001" y2="293.93095" stroke="#1f1f1f" stroke-width="1.2"/>
<circle cx="112.96" cy="264.57" r="1.55" fill="#2f9447"/>
<polygon points="113.56,281.04 111.70,277.63 115.42,277.63" fill="#2f9447"/>
<polygon points="112.66,289.52 110.80,292.93 114.52,292.93" fill="#2f9447"/>
<line x1="125.47" y1="257.03716" x2="125.47" y2="261.70725999999996" stroke="#1f1f1f" stroke-width="1.1"/>
<line x1="122.77" y1="257.03716" x2="128.17" y2="257.03716" stroke="#1f1f1f" stroke-width="1.2"/>
<line x1="122.77" y1="261.70725999999996" x2="128.17" y2="261.70725999999996" stroke="#1f1f1f" stroke-width="1.2"/>
<polygon points="125.47,259.27 123.61,255.86 127.33,255.86" fill="#4f1f5e"/>
<polygon points="126.07,257.90 124.21,261.31 127.93,261.31" fill="#4f1f5e"/>
<rect x="123.62" y="259.78" width="3.10" height="3.10" fill="#4f1f5e"/>
<line x1="137.98" y1="253.76808999999997" x2="137.98" y2="265.91035" stroke="#1f1f1f" stroke-width="1.1"/>
<line x1="135.28" y1="253.76808999999997" x2="140.67999999999998" y2="253.76808999999997" stroke="#1f1f1f" stroke-width="1.2"/>
<line x1="135.28" y1="265.91035" x2="140.67999999999998" y2="265.91035" stroke="#1f1f1f" stroke-width="1.2"/>
<polygon points="137.98,252.88 136.12,256.29 139.84,256.29" fill="#4f1f5e"/>
<rect x="137.03" y="259.52" width="3.10" height="3.10" fill="#4f1f5e"/>
<polygon points="137.68,262.92 135.66,264.94 137.68,266.95 139.69,264.94" fill="#4f1f5e"/>
<line x1="150.49" y1="252.67839999999998" x2="150.49" y2="280.23199" stroke="#1f1f1f" stroke-width="1.1"/>
<line x1="147.79000000000002" y1="252.67839999999998" x2="153.19" y2="252.67839999999998" stroke="#1f1f1f" stroke-width="1.2"/>
<line x1="147.79000000000002" y1="280.23199" x2="153.19" y2="280.23199" stroke="#1f1f1f" stroke-width="1.2"/>
<rect x="148.94" y="253.33" width="3.10" height="3.10" fill="#1f4f7a"/>
<polygon points="151.09,266.67 149.08,268.69 151.09,270.70 153.10,268.69" fill="#1f4f7a"/>
<circle cx="150.19" cy="278.03" r="1.55" fill="#1f4f7a"/>
<circle cx="112.96" cy="256.70" r="1.1" fill="#1a1a1a"/>
<circle cx="122.07" cy="253.80" r="1.1" fill="#1a1a1a"/>
<circle cx="125.47" cy="253.80" r="1.1" fill="#1a1a1a"/>
<circle cx="128.87" cy="253.80" r="1.1" fill="#1a1a1a"/>
<circle cx="134.58" cy="248.20" r="1.1" fill="#1a1a1a"/>
<circle cx="137.98" cy="248.20" r="1.1" fill="#1a1a1a"/>
<circle cx="141.38" cy="248.20" r="1.1" fill="#1a1a1a"/>
<circle cx="148.79" cy="245.60" r="1.1" fill="#1a1a1a"/>
<circle cx="152.19" cy="245.60" r="1.1" fill="#1a1a1a"/>
<line x1="29.3" y1="229.3" x2="29.3" y2="328.09999999999997" stroke="#151515" stroke-width="1.5"/>
<line x1="28.6" y1="327.4" x2="159" y2="327.4" stroke="#151515" stroke-width="1.5"/>
<line x1="26.1" y1="327.4" x2="29.3" y2="327.4" stroke="#231f20" stroke-width="1.2"/>
<text x="23.5" y="330.25" font-size="8.0" text-anchor="end" fill="#231f20" stroke="#231f20" stroke-width="0.12">0</text>
<line x1="26.1" y1="296.26599999999996" x2="29.3" y2="296.26599999999996" stroke="#231f20" stroke-width="1.2"/>
<text x="23.5" y="299.116" font-size="8.0" text-anchor="end" fill="#231f20" stroke="#231f20" stroke-width="0.12">20</text>
<line x1="26.1" y1="265.13199999999995" x2="29.3" y2="265.13199999999995" stroke="#231f20" stroke-width="1.2"/>
<text x="23.5" y="267.98199999999997" font-size="8.0" text-anchor="end" fill="#231f20" stroke="#231f20" stroke-width="0.12">40</text>
<line x1="26.1" y1="233.998" x2="29.3" y2="233.998" stroke="#231f20" stroke-width="1.2"/>
<text x="23.5" y="236.84799999999998" font-size="8.0" text-anchor="end" fill="#231f20" stroke="#231f20" stroke-width="0.12">60</text>
<line x1="37.9" y1="327.4" x2="37.9" y2="329.59999999999997" stroke="#231f20" stroke-width="0.9"/>
<line x1="50.41" y1="327.4" x2="50.41" y2="329.59999999999997" stroke="#231f20" stroke-width="0.9"/>
<line x1="62.92" y1="327.4" x2="62.92" y2="329.59999999999997" stroke="#231f20" stroke-width="0.9"/>
<line x1="75.43" y1="327.4" x2="75.43" y2="329.59999999999997" stroke="#231f20" stroke-width="0.9"/>
<line x1="87.94" y1="327.4" x2="87.94" y2="329.59999999999997" stroke="#231f20" stroke-width="0.9"/>
<line x1="100.44999999999999" y1="327.4" x2="100.44999999999999" y2="329.59999999999997" stroke="#231f20" stroke-width="0.9"/>
<line x1="112.96000000000001" y1="327.4" x2="112.96000000000001" y2="329.59999999999997" stroke="#231f20" stroke-width="0.9"/>
<line x1="125.47" y1="327.4" x2="125.47" y2="329.59999999999997" stroke="#231f20" stroke-width="0.9"/>
<line x1="137.98" y1="327.4" x2="137.98" y2="329.59999999999997" stroke="#231f20" stroke-width="0.9"/>
<line x1="150.49" y1="327.4" x2="150.49" y2="329.59999999999997" stroke="#231f20" stroke-width="0.9"/>
<text x="37.9" y="339.29999999999995" font-size="8.0" text-anchor="middle" fill="#231f20" stroke="#231f20" stroke-width="0.12">NT</text>
<text x="50.41" y="339.29999999999995" font-size="8.0" text-anchor="middle" fill="#231f20" stroke="#231f20" stroke-width="0.12">1</text>
<text x="62.92" y="339.29999999999995" font-size="8.0" text-anchor="middle" fill="#231f20" stroke="#231f20" stroke-width="0.12">2</text>
<text x="75.43" y="339.29999999999995" font-size="8.0" text-anchor="middle" fill="#231f20" stroke="#231f20" stroke-width="0.12">1</text>
<text x="87.94" y="339.29999999999995" font-size="8.0" text-anchor="middle" fill="#231f20" stroke="#231f20" stroke-width="0.12">2</text>
<text x="100.44999999999999" y="339.29999999999995" font-size="8.0" text-anchor="middle" fill="#231f20" stroke="#231f20" stroke-width="0.12">1</text>
<text x="112.96000000000001" y="339.29999999999995" font-size="8.0" text-anchor="middle" fill="#231f20" stroke="#231f20" stroke-width="0.12">2</text>
<text x="125.47" y="339.29999999999995" font-size="8.0" text-anchor="middle" fill="#231f20" stroke="#231f20" stroke-width="0.12">1</text>
<text x="137.98" y="339.29999999999995" font-size="8.0" text-anchor="middle" fill="#231f20" stroke="#231f20" stroke-width="0.12">2</text>
<text x="143.69" y="339.29999999999995" font-size="8.4" textLength="21.4" lengthAdjust="spacingAndGlyphs" fill="#231f20" stroke="#231f20" stroke-width="0.35">BCL11A</text>
<line x1="50.41" y1="342.2" x2="62.919999999999995" y2="342.2" stroke="#231f20" stroke-width="0.9"/>
<text x="52.364999999999995" y="349.9" font-size="6.3" text-anchor="middle" textLength="27.2" lengthAdjust="spacingAndGlyphs" fill="#231f20" stroke="#231f20" stroke-width="0.08">SYNCRIP</text>
<line x1="75.43" y1="342.2" x2="87.94000000000001" y2="342.2" stroke="#231f20" stroke-width="0.9"/>
<text x="81.185" y="349.9" font-size="6.3" text-anchor="middle" textLength="23.2" lengthAdjust="spacingAndGlyphs" fill="#231f20" stroke="#231f20" stroke-width="0.08">hnRNPM</text>
<line x1="100.44999999999999" y1="342.2" x2="112.96" y2="342.2" stroke="#231f20" stroke-width="0.9"/>
<text x="106.20499999999998" y="349.9" font-size="6.3" text-anchor="middle" textLength="18.6" lengthAdjust="spacingAndGlyphs" fill="#231f20" stroke="#231f20" stroke-width="0.08">PTBP1</text>
<line x1="125.47" y1="342.2" x2="137.98" y2="342.2" stroke="#231f20" stroke-width="0.9"/>
<text x="131.225" y="349.9" font-size="6.3" text-anchor="middle" textLength="21.4" lengthAdjust="spacingAndGlyphs" fill="#231f20" stroke="#231f20" stroke-width="0.08">RBM12</text>
<text x="77.2" y="223.6" font-size="9.3" textLength="34.6" lengthAdjust="spacingAndGlyphs" fill="#231f20" stroke="#231f20" stroke-width="0.12">%F cells</text>
<text transform="translate(7.9 280.5) rotate(-90)" font-size="8.4" text-anchor="middle" fill="#231f20" stroke="#231f20" stroke-width="0.25" textLength="24.4" lengthAdjust="spacingAndGlyphs">%F cells</text>
<rect x="211.20" y="304.15" width="8.20" height="23.25" fill="#6fb3a0"/>
<rect x="223.71" y="302.60" width="8.20" height="24.80" fill="#e3879b"/>
<rect x="236.22" y="301.67" width="8.20" height="25.73" fill="#e3879b"/>
<rect x="248.73" y="259.20" width="8.20" height="68.20" fill="#fbc57c"/>
<rect x="261.24" y="285.86" width="8.20" height="41.54" fill="#fbc57c"/>
<rect x="273.75" y="277.80" width="8.20" height="49.60" fill="#93d3a1"/>
<rect x="286.26" y="277.80" width="8.20" height="49.60" fill="#93d3a1"/>
<rect x="298.77" y="273.77" width="8.20" height="53.63" fill="#ab8dbe"/>
<rect x="311.28" y="276.25" width="8.20" height="51.15" fill="#ab8dbe"/>
<rect x="323.79" y="257.65" width="8.20" height="69.75" fill="#80a7c8"/>
<line x1="215.3" y1="298.88" x2="215.3" y2="311.59" stroke="#1f1f1f" stroke-width="1.1"/>
<line x1="212.60000000000002" y1="298.88" x2="218.0" y2="298.88" stroke="#1f1f1f" stroke-width="1.2"/>
<line x1="212.60000000000002" y1="311.59" x2="218.0" y2="311.59" stroke="#1f1f1f" stroke-width="1.2"/>
<polygon points="215.30,297.88 213.29,299.90 215.30,301.91 217.31,299.90" fill="#0e5a4c"/>
<circle cx="215.90" cy="304.79" r="1.55" fill="#0e5a4c"/>
<polygon points="215.00,312.43 213.14,309.02 216.86,309.02" fill="#0e5a4c"/>
<line x1="227.81" y1="290.2" x2="227.81" y2="313.45" stroke="#1f1f1f" stroke-width="1.1"/>
<line x1="225.11" y1="290.2" x2="230.51" y2="290.2" stroke="#1f1f1f" stroke-width="1.2"/>
<line x1="225.11" y1="313.45" x2="230.51" y2="313.45" stroke="#1f1f1f" stroke-width="1.2"/>
<circle cx="227.81" cy="292.06" r="1.55" fill="#b3163f"/>
<polygon points="228.41,305.62 226.55,302.21 230.27,302.21" fill="#b3163f"/>
<polygon points="227.51,309.73 225.65,313.14 229.37,313.14" fill="#b3163f"/>
<line x1="240.32000000000002" y1="288.65" x2="240.32000000000002" y2="311.9" stroke="#1f1f1f" stroke-width="1.1"/>
<line x1="237.62000000000003" y1="288.65" x2="243.02" y2="288.65" stroke="#1f1f1f" stroke-width="1.2"/>
<line x1="237.62000000000003" y1="311.9" x2="243.02" y2="311.9" stroke="#1f1f1f" stroke-width="1.2"/>
<polygon points="240.32,292.37 238.46,288.96 242.18,288.96" fill="#b3163f"/>
<polygon points="240.92,300.97 239.06,304.38 242.78,304.38" fill="#b3163f"/>
<rect x="238.47" y="308.49" width="3.10" height="3.10" fill="#b3163f"/>
<line x1="252.83" y1="245.24999999999997" x2="252.83" y2="272.84" stroke="#1f1f1f" stroke-width="1.1"/>
<line x1="250.13000000000002" y1="245.24999999999997" x2="255.53" y2="245.24999999999997" stroke="#1f1f1f" stroke-width="1.2"/>
<line x1="250.13000000000002" y1="272.84" x2="255.53" y2="272.84" stroke="#1f1f1f" stroke-width="1.2"/>
<polygon points="252.83,245.60 250.97,249.01 254.69,249.01" fill="#e08a23"/>
<rect x="251.88" y="259.03" width="3.10" height="3.10" fill="#e08a23"/>
<polygon points="252.53,268.62 250.52,270.63 252.53,272.65 254.54,270.63" fill="#e08a23"/>
<line x1="265.34000000000003" y1="256.71999999999997" x2="265.34000000000003" y2="313.45" stroke="#1f1f1f" stroke-width="1.1"/>
<line x1="262.64000000000004" y1="256.71999999999997" x2="268.04" y2="256.71999999999997" stroke="#1f1f1f" stroke-width="1.2"/>
<line x1="262.64000000000004" y1="313.45" x2="268.04" y2="313.45" stroke="#1f1f1f" stroke-width="1.2"/>
<rect x="263.79" y="259.71" width="3.10" height="3.10" fill="#e08a23"/>
<polygon points="265.94,286.68 263.93,288.70 265.94,290.71 267.96,288.70" fill="#e08a23"/>
<circle cx="265.04" cy="308.91" r="1.55" fill="#e08a23"/>
<line x1="277.85" y1="254.54999999999995" x2="277.85" y2="301.04999999999995" stroke="#1f1f1f" stroke-width="1.1"/>
<line x1="275.15000000000003" y1="254.54999999999995" x2="280.55" y2="254.54999999999995" stroke="#1f1f1f" stroke-width="1.2"/>
<line x1="275.15000000000003" y1="301.04999999999995" x2="280.55" y2="301.04999999999995" stroke="#1f1f1f" stroke-width="1.2"/>
<polygon points="277.85,256.25 275.84,258.27 277.85,260.28 279.87,258.27" fill="#2f9447"/>
<circle cx="278.45" cy="280.12" r="1.55" fill="#2f9447"/>
<polygon points="277.55,299.19 275.69,295.78 279.41,295.78" fill="#2f9447"/>
<line x1="290.36" y1="259.2" x2="290.36" y2="296.4" stroke="#1f1f1f" stroke-width="1.1"/>
<line x1="287.66" y1="259.2" x2="293.06" y2="259.2" stroke="#1f1f1f" stroke-width="1.2"/>
<line x1="287.66" y1="296.4" x2="293.06" y2="296.4" stroke="#1f1f1f" stroke-width="1.2"/>
<circle cx="290.36" cy="262.18" r="1.55" fill="#2f9447"/>
<polygon points="290.96,281.52 289.10,278.11 292.82,278.11" fill="#2f9447"/>
<polygon points="290.06,291.56 288.20,294.97 291.92,294.97" fill="#2f9447"/>
<line x1="302.87" y1="270.04999999999995" x2="302.87" y2="276.25" stroke="#1f1f1f" stroke-width="1.1"/>
<line x1="300.17" y1="270.04999999999995" x2="305.57" y2="270.04999999999995" stroke="#1f1f1f" stroke-width="1.2"/>
<line x1="300.17" y1="276.25" x2="305.57" y2="276.25" stroke="#1f1f1f" stroke-width="1.2"/>
<polygon points="302.87,272.41 301.01,269.00 304.73,269.00" fill="#4f1f5e"/>
<polygon points="303.47,272.22 301.61,275.63 305.33,275.63" fill="#4f1f5e"/>
<rect x="301.02" y="274.20" width="3.10" height="3.10" fill="#4f1f5e"/>
<line x1="315.38" y1="270.97999999999996" x2="315.38" y2="284.0" stroke="#1f1f1f" stroke-width="1.1"/>
<line x1="312.68" y1="270.97999999999996" x2="318.08" y2="270.97999999999996" stroke="#1f1f1f" stroke-width="1.2"/>
<line x1="312.68" y1="284.0" x2="318.08" y2="284.0" stroke="#1f1f1f" stroke-width="1.2"/>
<polygon points="315.38,270.16 313.52,273.57 317.24,273.57" fill="#4f1f5e"/>
<rect x="314.43" y="275.35" width="3.10" height="3.10" fill="#4f1f5e"/>
<polygon points="315.08,280.94 313.06,282.96 315.08,284.97 317.09,282.96" fill="#4f1f5e"/>
<line x1="327.89" y1="246.79999999999995" x2="327.89" y2="270.04999999999995" stroke="#1f1f1f" stroke-width="1.1"/>
<line x1="325.19" y1="246.79999999999995" x2="330.59" y2="246.79999999999995" stroke="#1f1f1f" stroke-width="1.2"/>
<line x1="325.19" y1="270.04999999999995" x2="330.59" y2="270.04999999999995" stroke="#1f1f1f" stroke-width="1.2"/>
<rect x="326.34" y="247.11" width="3.10" height="3.10" fill="#1f4f7a"/>
<polygon points="328.49,256.80 326.48,258.81 328.49,260.83 330.50,258.81" fill="#1f4f7a"/>
<circle cx="327.59" cy="268.19" r="1.55" fill="#1f4f7a"/>
<circle cx="251.13" cy="240.50" r="1.1" fill="#1a1a1a"/>
<circle cx="254.53" cy="240.50" r="1.1" fill="#1a1a1a"/>
<circle cx="277.85" cy="249.30" r="1.1" fill="#1a1a1a"/>
<circle cx="290.36" cy="253.50" r="1.1" fill="#1a1a1a"/>
<circle cx="302.87" cy="263.20" r="1.1" fill="#1a1a1a"/>
<circle cx="315.38" cy="265.00" r="1.1" fill="#1a1a1a"/>
<circle cx="326.19" cy="242.00" r="1.1" fill="#1a1a1a"/>
<circle cx="329.59" cy="242.00" r="1.1" fill="#1a1a1a"/>
<line x1="207" y1="230.3" x2="207" y2="328.09999999999997" stroke="#151515" stroke-width="1.5"/>
<line x1="206.3" y1="327.4" x2="337" y2="327.4" stroke="#151515" stroke-width="1.5"/>
<line x1="203.8" y1="327.4" x2="207" y2="327.4" stroke="#231f20" stroke-width="1.2"/>
<text x="201.2" y="330.25" font-size="8.0" text-anchor="end" fill="#231f20" stroke="#231f20" stroke-width="0.12">0</text>
<line x1="203.8" y1="296.4" x2="207" y2="296.4" stroke="#231f20" stroke-width="1.2"/>
<text x="201.2" y="299.25" font-size="8.0" text-anchor="end" fill="#231f20" stroke="#231f20" stroke-width="0.12">10</text>
<line x1="203.8" y1="265.4" x2="207" y2="265.4" stroke="#231f20" stroke-width="1.2"/>
<text x="201.2" y="268.25" font-size="8.0" text-anchor="end" fill="#231f20" stroke="#231f20" stroke-width="0.12">20</text>
<line x1="203.8" y1="234.39999999999998" x2="207" y2="234.39999999999998" stroke="#231f20" stroke-width="1.2"/>
<text x="201.2" y="237.24999999999997" font-size="8.0" text-anchor="end" fill="#231f20" stroke="#231f20" stroke-width="0.12">30</text>
<line x1="215.3" y1="327.4" x2="215.3" y2="329.59999999999997" stroke="#231f20" stroke-width="0.9"/>
<line x1="227.81" y1="327.4" x2="227.81" y2="329.59999999999997" stroke="#231f20" stroke-width="0.9"/>
<line x1="240.32000000000002" y1="327.4" x2="240.32000000000002" y2="329.59999999999997" stroke="#231f20" stroke-width="0.9"/>
<line x1="252.83" y1="327.4" x2="252.83" y2="329.59999999999997" stroke="#231f20" stroke-width="0.9"/>
<line x1="265.34000000000003" y1="327.4" x2="265.34000000000003" y2="329.59999999999997" stroke="#231f20" stroke-width="0.9"/>
<line x1="277.85" y1="327.4" x2="277.85" y2="329.59999999999997" stroke="#231f20" stroke-width="0.9"/>
<line x1="290.36" y1="327.4" x2="290.36" y2="329.59999999999997" stroke="#231f20" stroke-width="0.9"/>
<line x1="302.87" y1="327.4" x2="302.87" y2="329.59999999999997" stroke="#231f20" stroke-width="0.9"/>
<line x1="315.38" y1="327.4" x2="315.38" y2="329.59999999999997" stroke="#231f20" stroke-width="0.9"/>
<line x1="327.89" y1="327.4" x2="327.89" y2="329.59999999999997" stroke="#231f20" stroke-width="0.9"/>
<text x="215.3" y="339.29999999999995" font-size="8.0" text-anchor="middle" fill="#231f20" stroke="#231f20" stroke-width="0.12">NT</text>
<text x="227.81" y="339.29999999999995" font-size="8.0" text-anchor="middle" fill="#231f20" stroke="#231f20" stroke-width="0.12">1</text>
<text x="240.32000000000002" y="339.29999999999995" font-size="8.0" text-anchor="middle" fill="#231f20" stroke="#231f20" stroke-width="0.12">2</text>
<text x="252.83" y="339.29999999999995" font-size="8.0" text-anchor="middle" fill="#231f20" stroke="#231f20" stroke-width="0.12">1</text>
<text x="265.34000000000003" y="339.29999999999995" font-size="8.0" text-anchor="middle" fill="#231f20" stroke="#231f20" stroke-width="0.12">2</text>
<text x="277.85" y="339.29999999999995" font-size="8.0" text-anchor="middle" fill="#231f20" stroke="#231f20" stroke-width="0.12">1</text>
<text x="290.36" y="339.29999999999995" font-size="8.0" text-anchor="middle" fill="#231f20" stroke="#231f20" stroke-width="0.12">2</text>
<text x="302.87" y="339.29999999999995" font-size="8.0" text-anchor="middle" fill="#231f20" stroke="#231f20" stroke-width="0.12">1</text>
<text x="315.38" y="339.29999999999995" font-size="8.0" text-anchor="middle" fill="#231f20" stroke="#231f20" stroke-width="0.12">2</text>
<text x="321.09" y="339.29999999999995" font-size="8.4" textLength="21.4" lengthAdjust="spacingAndGlyphs" fill="#231f20" stroke="#231f20" stroke-width="0.35">BCL11A</text>
<line x1="227.81" y1="342.2" x2="240.32" y2="342.2" stroke="#231f20" stroke-width="0.9"/>
<text x="229.765" y="349.9" font-size="6.3" text-anchor="middle" textLength="27.2" lengthAdjust="spacingAndGlyphs" fill="#231f20" stroke="#231f20" stroke-width="0.08">SYNCRIP</text>
<line x1="252.83" y1="342.2" x2="265.34000000000003" y2="342.2" stroke="#231f20" stroke-width="0.9"/>
<text x="258.58500000000004" y="349.9" font-size="6.3" text-anchor="middle" textLength="23.2" lengthAdjust="spacingAndGlyphs" fill="#231f20" stroke="#231f20" stroke-width="0.08">hnRNPM</text>
<line x1="277.85" y1="342.2" x2="290.36" y2="342.2" stroke="#231f20" stroke-width="0.9"/>
<text x="283.605" y="349.9" font-size="6.3" text-anchor="middle" textLength="18.6" lengthAdjust="spacingAndGlyphs" fill="#231f20" stroke="#231f20" stroke-width="0.08">PTBP1</text>
<line x1="302.87" y1="342.2" x2="315.38" y2="342.2" stroke="#231f20" stroke-width="0.9"/>
<text x="308.625" y="349.9" font-size="6.3" text-anchor="middle" textLength="21.4" lengthAdjust="spacingAndGlyphs" fill="#231f20" stroke="#231f20" stroke-width="0.08">RBM12</text>
<text x="256.8" y="223.6" font-size="9.3" textLength="30.3" lengthAdjust="spacingAndGlyphs" fill="#231f20" stroke="#231f20" stroke-width="0.12">%HBG</text>
<text transform="translate(186 280.5) rotate(-90)" font-size="8.4" text-anchor="middle" fill="#231f20" stroke="#231f20" stroke-width="0.25" textLength="77.9" lengthAdjust="spacingAndGlyphs">HBG/(HBG+HBB+HBE) %</text>
<rect x="388.30" y="312.11" width="8.40" height="15.29" fill="#6fb3a0"/>
<rect x="400.80" y="308.38" width="8.40" height="19.02" fill="#e3879b"/>
<rect x="413.30" y="306.14" width="8.40" height="21.26" fill="#e3879b"/>
<rect x="425.80" y="284.88" width="8.40" height="42.52" fill="#fbc57c"/>
<rect x="438.30" y="292.71" width="8.40" height="34.69" fill="#fbc57c"/>
<rect x="450.80" y="297.19" width="8.40" height="30.21" fill="#93d3a1"/>
<rect x="463.30" y="301.66" width="8.40" height="25.74" fill="#93d3a1"/>
<rect x="475.80" y="285.25" width="8.40" height="42.15" fill="#ab8dbe"/>
<rect x="488.30" y="288.23" width="8.40" height="39.17" fill="#ab8dbe"/>
<rect x="500.80" y="278.16" width="8.40" height="49.24" fill="#80a7c8"/>
<line x1="392.5" y1="307.631" x2="392.5" y2="320.313" stroke="#1f1f1f" stroke-width="1.1"/>
<line x1="389.8" y1="307.631" x2="395.2" y2="307.631" stroke="#1f1f1f" stroke-width="1.2"/>
<line x1="389.8" y1="320.313" x2="395.2" y2="320.313" stroke="#1f1f1f" stroke-width="1.2"/>
<polygon points="392.50,306.63 390.49,308.65 392.50,310.66 394.51,308.65" fill="#0e5a4c"/>
<circle cx="393.10" cy="312.74" r="1.55" fill="#0e5a4c"/>
<polygon points="392.20,321.16 390.34,317.75 394.06,317.75" fill="#0e5a4c"/>
<line x1="405.0" y1="301.28999999999996" x2="405.0" y2="315.837" stroke="#1f1f1f" stroke-width="1.1"/>
<line x1="402.3" y1="301.28999999999996" x2="407.7" y2="301.28999999999996" stroke="#1f1f1f" stroke-width="1.2"/>
<line x1="402.3" y1="315.837" x2="407.7" y2="315.837" stroke="#1f1f1f" stroke-width="1.2"/>
<circle cx="405.00" cy="302.45" r="1.55" fill="#b3163f"/>
<polygon points="405.60,310.96 403.74,307.55 407.46,307.55" fill="#b3163f"/>
<polygon points="404.70,312.81 402.84,316.22 406.56,316.22" fill="#b3163f"/>
<line x1="417.5" y1="296.441" x2="417.5" y2="318.075" stroke="#1f1f1f" stroke-width="1.1"/>
<line x1="414.8" y1="296.441" x2="420.2" y2="296.441" stroke="#1f1f1f" stroke-width="1.2"/>
<line x1="414.8" y1="318.075" x2="420.2" y2="318.075" stroke="#1f1f1f" stroke-width="1.2"/>
<polygon points="417.50,300.03 415.64,296.62 419.36,296.62" fill="#b3163f"/>
<polygon points="418.10,305.36 416.24,308.77 419.96,308.77" fill="#b3163f"/>
<rect x="415.65" y="314.79" width="3.10" height="3.10" fill="#b3163f"/>
<line x1="430.0" y1="271.45" x2="430.0" y2="307.631" stroke="#1f1f1f" stroke-width="1.1"/>
<line x1="427.3" y1="271.45" x2="432.7" y2="271.45" stroke="#1f1f1f" stroke-width="1.2"/>
<line x1="427.3" y1="307.631" x2="432.7" y2="307.631" stroke="#1f1f1f" stroke-width="1.2"/>
<polygon points="430.00,272.48 428.14,275.89 431.86,275.89" fill="#e08a23"/>
<rect x="429.05" y="285.14" width="3.10" height="3.10" fill="#e08a23"/>
<polygon points="429.70,302.72 427.69,304.74 429.70,306.75 431.71,304.74" fill="#e08a23"/>
<line x1="442.5" y1="285.62399999999997" x2="442.5" y2="299.798" stroke="#1f1f1f" stroke-width="1.1"/>
<line x1="439.8" y1="285.62399999999997" x2="445.2" y2="285.62399999999997" stroke="#1f1f1f" stroke-width="1.2"/>
<line x1="439.8" y1="299.798" x2="445.2" y2="299.798" stroke="#1f1f1f" stroke-width="1.2"/>
<rect x="440.95" y="285.21" width="3.10" height="3.10" fill="#e08a23"/>
<polygon points="443.10,291.40 441.09,293.42 443.10,295.43 445.12,293.42" fill="#e08a23"/>
<circle cx="442.20" cy="298.66" r="1.55" fill="#e08a23"/>
<line x1="455.0" y1="278.537" x2="455.0" y2="316.21" stroke="#1f1f1f" stroke-width="1.1"/>
<line x1="452.3" y1="278.537" x2="457.7" y2="278.537" stroke="#1f1f1f" stroke-width="1.2"/>
<line x1="452.3" y1="316.21" x2="457.7" y2="316.21" stroke="#1f1f1f" stroke-width="1.2"/>
<polygon points="455.00,279.54 452.99,281.55 455.00,283.57 457.01,281.55" fill="#2f9447"/>
<circle cx="455.60" cy="299.07" r="1.55" fill="#2f9447"/>
<polygon points="454.70,315.06 452.84,311.65 456.56,311.65" fill="#2f9447"/>
<line x1="467.5" y1="288.981" x2="467.5" y2="316.21" stroke="#1f1f1f" stroke-width="1.1"/>
<line x1="464.8" y1="288.981" x2="470.2" y2="288.981" stroke="#1f1f1f" stroke-width="1.2"/>
<line x1="464.8" y1="316.21" x2="470.2" y2="316.21" stroke="#1f1f1f" stroke-width="1.2"/>
<circle cx="467.50" cy="291.16" r="1.55" fill="#2f9447"/>
<polygon points="468.10,304.88 466.24,301.47 469.96,301.47" fill="#2f9447"/>
<polygon points="467.20,312.17 465.34,315.58 469.06,315.58" fill="#2f9447"/>
<line x1="480.0" y1="271.077" x2="480.0" y2="299.42499999999995" stroke="#1f1f1f" stroke-width="1.1"/>
<line x1="477.3" y1="271.077" x2="482.7" y2="271.077" stroke="#1f1f1f" stroke-width="1.2"/>
<line x1="477.3" y1="299.42499999999995" x2="482.7" y2="299.42499999999995" stroke="#1f1f1f" stroke-width="1.2"/>
<polygon points="480.00,275.20 478.14,271.79 481.86,271.79" fill="#4f1f5e"/>
<polygon points="480.60,284.81 478.74,288.22 482.46,288.22" fill="#4f1f5e"/>
<rect x="478.15" y="295.61" width="3.10" height="3.10" fill="#4f1f5e"/>
<line x1="492.5" y1="274.43399999999997" x2="492.5" y2="304.274" stroke="#1f1f1f" stroke-width="1.1"/>
<line x1="489.8" y1="274.43399999999997" x2="495.2" y2="274.43399999999997" stroke="#1f1f1f" stroke-width="1.2"/>
<line x1="489.8" y1="304.274" x2="495.2" y2="304.274" stroke="#1f1f1f" stroke-width="1.2"/>
<polygon points="492.50,274.96 490.64,278.37 494.36,278.37" fill="#4f1f5e"/>
<rect x="491.55" y="288.18" width="3.10" height="3.10" fill="#4f1f5e"/>
<polygon points="492.20,299.87 490.19,301.89 492.20,303.90 494.21,301.89" fill="#4f1f5e"/>
<line x1="505.0" y1="258.395" x2="505.0" y2="298.306" stroke="#1f1f1f" stroke-width="1.1"/>
<line x1="502.3" y1="258.395" x2="507.7" y2="258.395" stroke="#1f1f1f" stroke-width="1.2"/>
<line x1="502.3" y1="298.306" x2="507.7" y2="298.306" stroke="#1f1f1f" stroke-width="1.2"/>
<rect x="503.45" y="260.04" width="3.10" height="3.10" fill="#1f4f7a"/>
<polygon points="505.60,278.14 503.59,280.16 505.60,282.17 507.62,280.16" fill="#1f4f7a"/>
<circle cx="504.70" cy="295.11" r="1.55" fill="#1f4f7a"/>
<circle cx="430.00" cy="265.80" r="1.1" fill="#1a1a1a"/>
<circle cx="480.00" cy="265.70" r="1.1" fill="#1a1a1a"/>
<circle cx="492.50" cy="269.20" r="1.1" fill="#1a1a1a"/>
<circle cx="503.30" cy="247.80" r="1.1" fill="#1a1a1a"/>
<circle cx="506.70" cy="247.80" r="1.1" fill="#1a1a1a"/>
<line x1="384.8" y1="230.3" x2="384.8" y2="328.09999999999997" stroke="#151515" stroke-width="1.5"/>
<line x1="384.1" y1="327.4" x2="515.6" y2="327.4" stroke="#151515" stroke-width="1.5"/>
<line x1="381.6" y1="327.4" x2="384.8" y2="327.4" stroke="#231f20" stroke-width="1.2"/>
<text x="379.0" y="330.25" font-size="8.0" text-anchor="end" fill="#231f20" stroke="#231f20" stroke-width="0.12">0</text>
<line x1="381.6" y1="308.75" x2="384.8" y2="308.75" stroke="#231f20" stroke-width="1.2"/>
<text x="379.0" y="311.6" font-size="8.0" text-anchor="end" fill="#231f20" stroke="#231f20" stroke-width="0.12">5</text>
<line x1="381.6" y1="290.09999999999997" x2="384.8" y2="290.09999999999997" stroke="#231f20" stroke-width="1.2"/>
<text x="379.0" y="292.95" font-size="8.0" text-anchor="end" fill="#231f20" stroke="#231f20" stroke-width="0.12">10</text>
<line x1="381.6" y1="271.45" x2="384.8" y2="271.45" stroke="#231f20" stroke-width="1.2"/>
<text x="379.0" y="274.3" font-size="8.0" text-anchor="end" fill="#231f20" stroke="#231f20" stroke-width="0.12">15</text>
<line x1="381.6" y1="252.79999999999998" x2="384.8" y2="252.79999999999998" stroke="#231f20" stroke-width="1.2"/>
<text x="379.0" y="255.64999999999998" font-size="8.0" text-anchor="end" fill="#231f20" stroke="#231f20" stroke-width="0.12">20</text>
<line x1="381.6" y1="234.14999999999998" x2="384.8" y2="234.14999999999998" stroke="#231f20" stroke-width="1.2"/>
<text x="379.0" y="236.99999999999997" font-size="8.0" text-anchor="end" fill="#231f20" stroke="#231f20" stroke-width="0.12">25</text>
<line x1="392.5" y1="327.4" x2="392.5" y2="329.59999999999997" stroke="#231f20" stroke-width="0.9"/>
<line x1="405.0" y1="327.4" x2="405.0" y2="329.59999999999997" stroke="#231f20" stroke-width="0.9"/>
<line x1="417.5" y1="327.4" x2="417.5" y2="329.59999999999997" stroke="#231f20" stroke-width="0.9"/>
<line x1="430.0" y1="327.4" x2="430.0" y2="329.59999999999997" stroke="#231f20" stroke-width="0.9"/>
<line x1="442.5" y1="327.4" x2="442.5" y2="329.59999999999997" stroke="#231f20" stroke-width="0.9"/>
<line x1="455.0" y1="327.4" x2="455.0" y2="329.59999999999997" stroke="#231f20" stroke-width="0.9"/>
<line x1="467.5" y1="327.4" x2="467.5" y2="329.59999999999997" stroke="#231f20" stroke-width="0.9"/>
<line x1="480.0" y1="327.4" x2="480.0" y2="329.59999999999997" stroke="#231f20" stroke-width="0.9"/>
<line x1="492.5" y1="327.4" x2="492.5" y2="329.59999999999997" stroke="#231f20" stroke-width="0.9"/>
<line x1="505.0" y1="327.4" x2="505.0" y2="329.59999999999997" stroke="#231f20" stroke-width="0.9"/>
<text x="392.5" y="339.29999999999995" font-size="8.0" text-anchor="middle" fill="#231f20" stroke="#231f20" stroke-width="0.12">NT</text>
<text x="405.0" y="339.29999999999995" font-size="8.0" text-anchor="middle" fill="#231f20" stroke="#231f20" stroke-width="0.12">1</text>
<text x="417.5" y="339.29999999999995" font-size="8.0" text-anchor="middle" fill="#231f20" stroke="#231f20" stroke-width="0.12">2</text>
<text x="430.0" y="339.29999999999995" font-size="8.0" text-anchor="middle" fill="#231f20" stroke="#231f20" stroke-width="0.12">1</text>
<text x="442.5" y="339.29999999999995" font-size="8.0" text-anchor="middle" fill="#231f20" stroke="#231f20" stroke-width="0.12">2</text>
<text x="455.0" y="339.29999999999995" font-size="8.0" text-anchor="middle" fill="#231f20" stroke="#231f20" stroke-width="0.12">1</text>
<text x="467.5" y="339.29999999999995" font-size="8.0" text-anchor="middle" fill="#231f20" stroke="#231f20" stroke-width="0.12">2</text>
<text x="480.0" y="339.29999999999995" font-size="8.0" text-anchor="middle" fill="#231f20" stroke="#231f20" stroke-width="0.12">1</text>
<text x="492.5" y="339.29999999999995" font-size="8.0" text-anchor="middle" fill="#231f20" stroke="#231f20" stroke-width="0.12">2</text>
<text x="498.2" y="339.29999999999995" font-size="8.4" textLength="21.4" lengthAdjust="spacingAndGlyphs" fill="#231f20" stroke="#231f20" stroke-width="0.35">BCL11A</text>
<line x1="405.0" y1="342.2" x2="417.5" y2="342.2" stroke="#231f20" stroke-width="0.9"/>
<text x="406.95" y="349.9" font-size="6.3" text-anchor="middle" textLength="27.2" lengthAdjust="spacingAndGlyphs" fill="#231f20" stroke="#231f20" stroke-width="0.08">SYNCRIP</text>
<line x1="430.0" y1="342.2" x2="442.5" y2="342.2" stroke="#231f20" stroke-width="0.9"/>
<text x="435.75" y="349.9" font-size="6.3" text-anchor="middle" textLength="23.2" lengthAdjust="spacingAndGlyphs" fill="#231f20" stroke="#231f20" stroke-width="0.08">hnRNPM</text>
<line x1="455.0" y1="342.2" x2="467.5" y2="342.2" stroke="#231f20" stroke-width="0.9"/>
<text x="460.75" y="349.9" font-size="6.3" text-anchor="middle" textLength="18.6" lengthAdjust="spacingAndGlyphs" fill="#231f20" stroke="#231f20" stroke-width="0.08">PTBP1</text>
<line x1="480.0" y1="342.2" x2="492.5" y2="342.2" stroke="#231f20" stroke-width="0.9"/>
<text x="485.75" y="349.9" font-size="6.3" text-anchor="middle" textLength="21.4" lengthAdjust="spacingAndGlyphs" fill="#231f20" stroke="#231f20" stroke-width="0.08">RBM12</text>
<text x="436.2" y="223.6" font-size="9.3" textLength="26.2" lengthAdjust="spacingAndGlyphs" fill="#231f20" stroke="#231f20" stroke-width="0.12">%HbF</text>
<text transform="translate(363.6 280.4) rotate(-90)" font-size="8.4" text-anchor="middle" fill="#231f20" stroke="#231f20" stroke-width="0.25" textLength="55.2" lengthAdjust="spacingAndGlyphs">HbF/(HbF+HbA) %</text></svg></body></html>
